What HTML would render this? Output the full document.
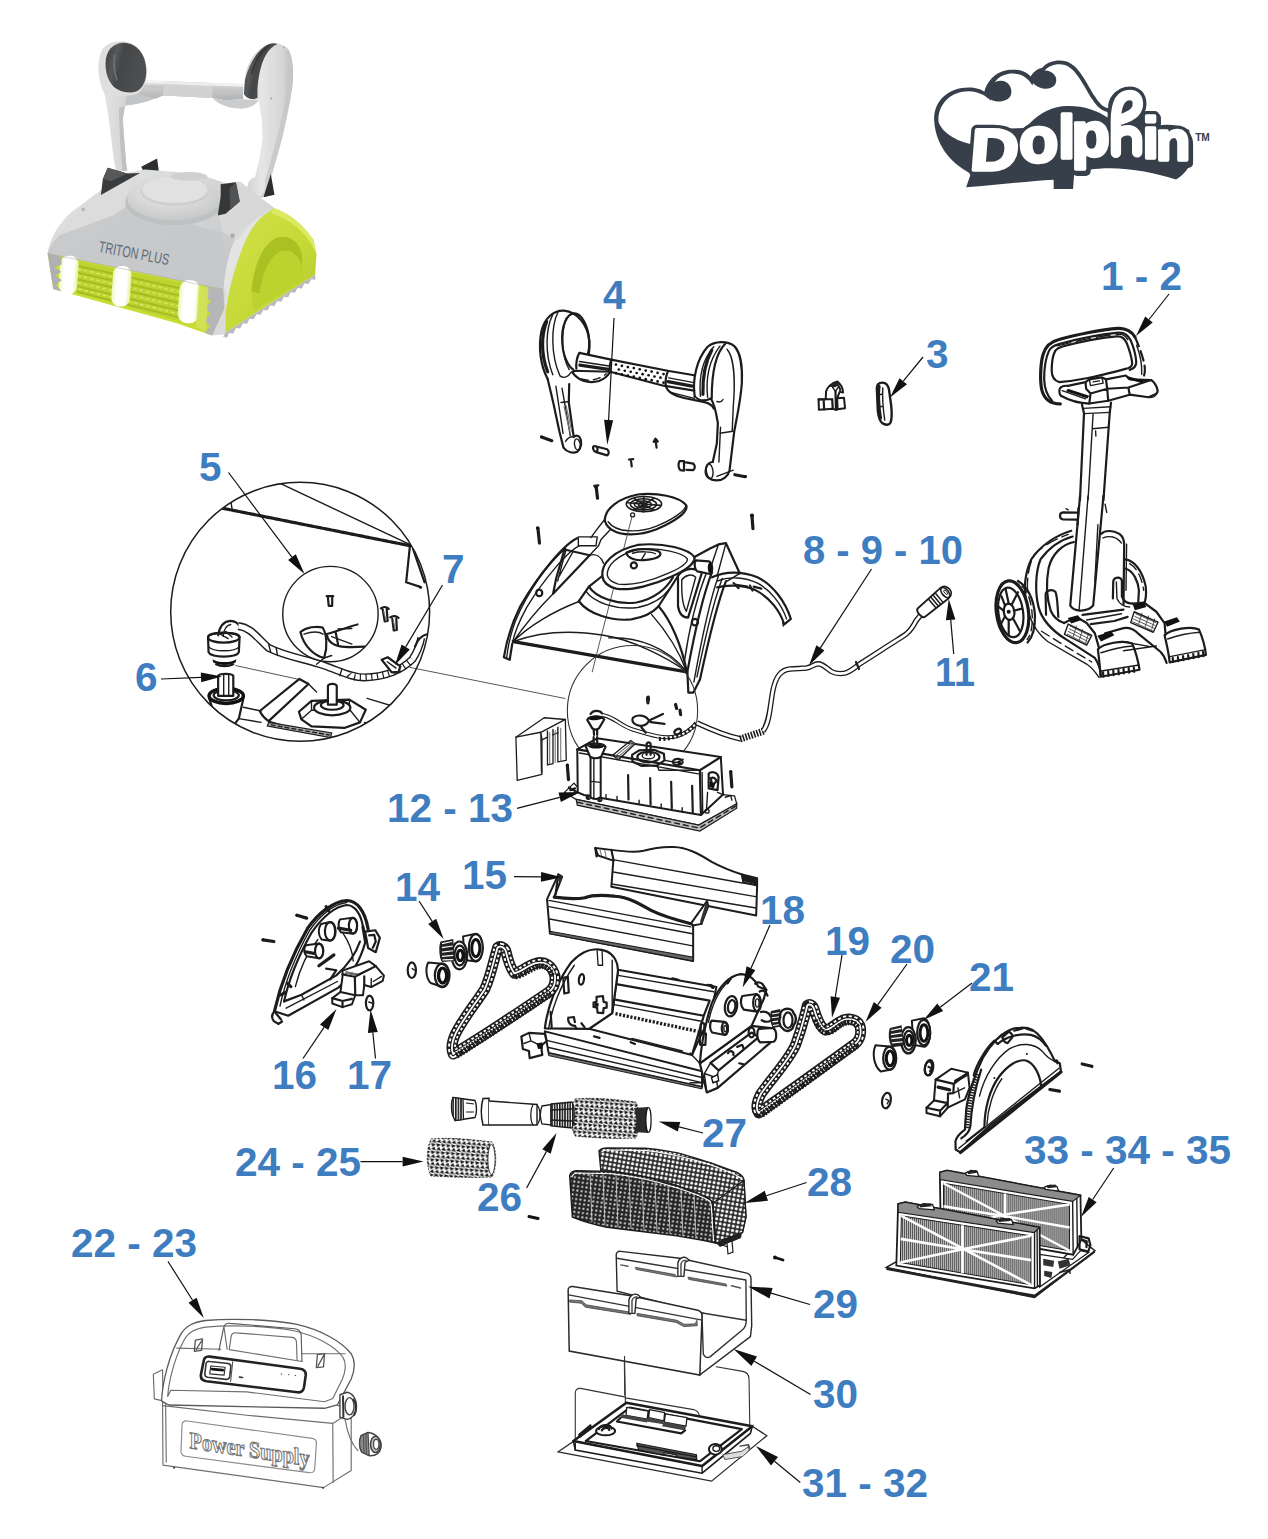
<!DOCTYPE html>
<html><head><meta charset="utf-8"><title>Dolphin Triton Plus parts diagram</title>
<style>
html,body{margin:0;padding:0;background:#fff;}
body{width:1268px;height:1539px;overflow:hidden;font-family:"Liberation Sans",sans-serif;}
svg{display:block}
svg *{vector-effect:non-scaling-stroke}
#robot *,#robotH *,#logo *{vector-effect:none}
.lb{font-family:"Liberation Sans",sans-serif;font-weight:bold;font-size:40.5px;fill:#3e7dbf}
.k{fill:none;stroke:#1c1c1c;stroke-width:1.4;stroke-linecap:round;stroke-linejoin:round}
.k2{fill:none;stroke:#1c1c1c;stroke-width:2.2;stroke-linecap:round;stroke-linejoin:round}
.k3{fill:none;stroke:#1c1c1c;stroke-width:3.2;stroke-linecap:round;stroke-linejoin:round}
.t{fill:none;stroke:#444;stroke-width:0.9;stroke-linecap:round;stroke-linejoin:round}
.g{fill:none;stroke:#777;stroke-width:1.1;stroke-linecap:round;stroke-linejoin:round}
.w{fill:#fff;stroke:#1c1c1c;stroke-width:1.3;stroke-linecap:round;stroke-linejoin:round}
</style></head><body>
<svg width="1268" height="1539" viewBox="0 0 1268 1539">
<rect width="1268" height="1539" fill="#ffffff"/>

<!-- 005_robothandle.svg -->
<defs>
<linearGradient id="hgPad" x1="0" y1="0" x2="1" y2="0.3"><stop offset="0" stop-color="#3a3b3c"/><stop offset="0.3" stop-color="#58595a"/><stop offset="0.45" stop-color="#454647"/><stop offset="1" stop-color="#4e4f50"/></linearGradient>
<linearGradient id="hgArmL" x1="0" y1="0" x2="1" y2="0"><stop offset="0" stop-color="#e3e3e4"/><stop offset="0.5" stop-color="#cfcfd0"/><stop offset="1" stop-color="#b2b3b4"/></linearGradient>
<linearGradient id="hgArmR" x1="0" y1="0" x2="1" y2="0"><stop offset="0" stop-color="#cbcccd"/><stop offset="0.35" stop-color="#e6e6e7"/><stop offset="0.8" stop-color="#d5d5d6"/><stop offset="1" stop-color="#b8b9ba"/></linearGradient>
<linearGradient id="hgBar" x1="0" y1="0" x2="0" y2="1"><stop offset="0" stop-color="#e9e9ea"/><stop offset="0.3" stop-color="#d0d0d1"/><stop offset="1" stop-color="#b0b1b2"/></linearGradient>
</defs>
<g id="robotH" transform="translate(80,25) scale(0.18927)">
<!-- left arm -->
<path d="M128,355 L150,480 L165,600 L180,720 L192,775 L250,770 L245,740 L235,620 L226,500 L238,425 C300,418 380,400 432,372 L440,300 L275,292 Z" fill="url(#hgArmL)"/>
<path d="M205,440 L238,425 L226,500 L235,620 L245,740 L250,770 L225,772 L212,620 Z" fill="#b9babb" opacity=".75"/>
<path d="M250,352 C300,360 360,365 432,372 C380,400 300,418 238,425 Z" fill="#c4c5c6"/>
<!-- crossbar -->
<path d="M275,290 L440,296 L700,306 L862,312 L862,392 L765,398 L700,386 L440,372 L400,388 L255,352 Z" fill="url(#hgBar)"/>
<path d="M440,296 L700,306 L700,386 L440,372 Z" fill="#d2d2d3"/>
<path d="M440,296 L700,306 L700,322 L440,312 Z" fill="#ececed"/>
<path d="M275,290 L440,296 L440,310 L280,305 Z M700,306 L862,312 L862,326 L700,320 Z" fill="#f1f1f2"/>
<path d="M285,318 L440,324 L440,332 L285,326 Z M705,338 L858,344 L858,352 L705,346 Z" fill="#c3c4c5"/>
<!-- right bracket -->
<path d="M700,386 C730,420 780,440 850,442 C900,440 930,420 945,398 L862,392 L765,398 Z" fill="#cbcccd"/>
<!-- left head -->
<path d="M130,365 C95,300 85,200 115,135 C140,95 190,80 240,88 C300,98 345,150 353,230 C357,290 340,340 300,365 C250,378 180,380 130,365 Z" fill="#dededf"/>
<path d="M135,205 C135,135 175,94 232,94 C300,98 345,150 350,235 C352,290 335,330 300,350 C260,365 205,355 172,320 C147,290 135,250 135,205 Z" fill="url(#hgPad)"/>
<path d="M182,160 C178,200 180,250 195,290" stroke="#7b7c7d" stroke-width="9" fill="none" opacity=".7" stroke-linecap="round"/>
<!-- right arm + head -->
<path d="M1000,100 C1040,88 1085,105 1105,135 C1125,180 1130,250 1122,320 C1112,400 1090,500 1070,590 L1040,700 L1002,830 C1005,880 975,915 940,915 C905,915 882,890 885,850 C890,825 905,810 925,805 L945,720 L965,600 L960,500 L945,398 C900,400 870,380 865,350 L870,290 C880,200 930,120 1000,100 Z" fill="url(#hgArmR)"/>
<path d="M1095,125 C1125,180 1130,250 1122,320 C1112,400 1090,500 1070,590 L1040,700 L1002,830 C1005,880 975,915 940,915 C975,895 985,860 978,825 L1015,690 L1050,560 C1075,450 1100,330 1098,230 C1098,190 1098,150 1095,125 Z" fill="#c6c7c8" opacity=".8"/>
<path d="M1000,100 C940,125 895,200 872,290 L866,365 C880,392 915,398 938,385 C935,320 945,250 965,195 C985,145 1010,112 1045,100 C1030,95 1012,96 1000,100 Z" fill="url(#hgPad)"/>
<path d="M1000,108 C960,135 925,190 905,260" stroke="#2c2d2e" stroke-width="10" fill="none" opacity=".6"/>
<circle cx="1010" cy="388" r="5" fill="#9a9b9c"/><circle cx="1078" cy="118" r="3.5" fill="#888"/>
</g>


<!-- 01_robot.svg -->
<defs>
<linearGradient id="rgShell" x1="0" y1="0" x2="1" y2="1"><stop offset="0" stop-color="#e6e7e7"/><stop offset="0.55" stop-color="#cfd0d1"/><stop offset="1" stop-color="#b9babb"/></linearGradient>
<linearGradient id="rgShell2" x1="0" y1="0" x2="0" y2="1"><stop offset="0" stop-color="#d4d5d6"/><stop offset="1" stop-color="#bfc0c1"/></linearGradient>
<linearGradient id="rgLime" x1="0" y1="0" x2="1" y2="1"><stop offset="0" stop-color="#d3e24a"/><stop offset="0.6" stop-color="#c3d835"/><stop offset="1" stop-color="#b1c82a"/></linearGradient>
<linearGradient id="rgArm" x1="0" y1="0" x2="1" y2="0"><stop offset="0" stop-color="#e9e9e9"/><stop offset="0.6" stop-color="#d2d2d3"/><stop offset="1" stop-color="#b4b5b6"/></linearGradient>
<linearGradient id="rgPad" x1="0" y1="0" x2="1" y2="1"><stop offset="0" stop-color="#3f4041"/><stop offset="0.6" stop-color="#5c5d5e"/><stop offset="1" stop-color="#77787a"/></linearGradient>
<linearGradient id="rgBar" x1="0" y1="0" x2="0" y2="1"><stop offset="0" stop-color="#e2e2e3"/><stop offset="0.5" stop-color="#cdcdce"/><stop offset="1" stop-color="#b0b1b2"/></linearGradient>
<radialGradient id="rgDome" cx="0.45" cy="0.35" r="0.7"><stop offset="0" stop-color="#ececec"/><stop offset="1" stop-color="#c4c5c6"/></radialGradient>
<linearGradient id="rgCyl" x1="0" y1="0" x2="1" y2="0"><stop offset="0" stop-color="#eef7b8"/><stop offset="0.25" stop-color="#ffffff"/><stop offset="0.75" stop-color="#ffffff"/><stop offset="1" stop-color="#e6f29c"/></linearGradient>
</defs>
<g id="robot" transform="translate(30,20) scale(0.24448)">
<!-- black fins behind -->
<path d="M455,600 L520,566 L528,628 L470,632 Z" fill="#2d2e2f"/>
<path d="M985,630 L1000,715 L955,725 Z" fill="#2d2e2f"/>
<!-- main shell -->
<path d="M72,955 C80,890 120,830 170,785 L300,690 L395,625 L470,612 L600,622 L720,640 L800,668 L860,662 L930,720 L1000,770 C940,800 900,850 870,930 C840,1010 810,1100 800,1205 L790,1102 Z" fill="url(#rgShell)"/>
<!-- right lit band of shell -->
<path d="M860,860 C900,830 950,790 1000,770 C940,810 900,870 875,950 C845,1040 820,1120 805,1215 L790,1105 C800,1000 820,920 860,860 Z" fill="#e4e4e5"/>
<!-- shell facets -->
<path d="M300,690 L395,625 L440,640 L400,760 L340,800 L200,860 L120,880 C150,820 220,740 300,690 Z" fill="#dcdcdd" opacity=".9"/>
<path d="M120,880 L340,800 L400,760 L640,830 L790,870 L800,1000 L790,1102 L72,955 C85,920 100,900 120,880 Z" fill="#c6c7c8" opacity=".85"/>
<path d="M790,870 L760,760 L800,668 L860,662 L1000,770 C930,800 880,850 850,900 Z" fill="#d8d8d9" opacity=".9"/>
<!-- dome -->
<ellipse cx="590" cy="745" rx="200" ry="95" fill="#bfc0c1"/>
<ellipse cx="590" cy="730" rx="192" ry="90" fill="url(#rgDome)"/>
<ellipse cx="592" cy="700" rx="140" ry="60" fill="#cdcecf"/>
<ellipse cx="592" cy="694" rx="134" ry="55" fill="#e1e1e2"/>
<ellipse cx="650" cy="640" rx="75" ry="18" fill="#d0d0d1"/>
<!-- black fins front -->
<path d="M318,604 L398,628 L450,626 L290,716 L298,650 Z" fill="#3a3b3c"/>
<path d="M318,604 L398,628 L330,660 L298,650 Z" fill="#57585a"/>
<path d="M780,672 L842,664 L858,742 L800,792 L768,800 L780,722 Z" fill="#363738"/>
<path d="M842,664 L858,742 L820,775 L815,690 Z" fill="#515253"/>
<!-- gap strip -->
<path d="M788,1100 L802,1100 L802,1285 L745,1290 L795,1180 Z" fill="#d9dadb"/>
<!-- lime side -->
<path d="M1000,770 C1060,790 1120,840 1160,900 L1172,960 L1166,1042 L800,1278 L800,1205 C810,1100 840,1010 870,930 C900,850 940,800 1000,770 Z" fill="url(#rgLime)"/>
<path d="M905,1110 C915,1010 945,930 1000,895 C1050,870 1100,900 1112,960 L1114,1015 C1100,960 1060,930 1020,950 C975,975 950,1040 940,1120 Z" fill="#a9c122"/>
<path d="M940,1120 C950,1040 975,975 1020,950 C1060,930 1100,960 1114,1015 L1114,1060 L915,1190 L905,1110 Z" fill="#bcd22f"/>
<path d="M1000,770 C1060,790 1120,840 1160,900 L1172,960 C1140,880 1080,820 985,790 Z" fill="#dcea63"/>
<!-- teeth strip under lime -->
<path d="M800,1278 L1166,1042 L1168,1062 L1150,1060 L1140,1080 L1122,1078 L1112,1098 L1094,1096 L1084,1116 L1066,1114 L1056,1134 L1038,1132 L1028,1152 L1010,1150 L1000,1170 L982,1168 L972,1188 L954,1186 L944,1206 L926,1204 L916,1224 L898,1222 L888,1242 L870,1240 L860,1262 L842,1260 L832,1282 L814,1280 L806,1300 L790,1296 Z" fill="#b9babb"/>
<!-- front brush zone -->
<path d="M72,955 L790,1102 L795,1180 L745,1290 L600,1240 L95,1100 Z" fill="#c9de35"/>
<path d="M185,985 L620,1075 L620,1235 L185,1115 Z" fill="#bcd330"/>
<g stroke="#9db51e" stroke-width="7" fill="none" opacity=".8">
<path d="M190,1005 L615,1098"/><path d="M190,1032 L615,1128"/><path d="M190,1060 L615,1158"/><path d="M190,1088 L615,1190"/><path d="M192,1112 L615,1218"/>
</g>
<g stroke="#e3f07a" stroke-width="5" fill="none" opacity=".8" stroke-dasharray="14 12">
<path d="M195,1018 L615,1112"/><path d="M195,1046 L615,1142"/><path d="M195,1074 L615,1172"/><path d="M198,1100 L615,1204"/>
</g>
<!-- white cylinders -->
<rect x="120" y="964" width="76" height="158" rx="34" fill="url(#rgCyl)" transform="rotate(4 157 1043)"/>
<rect x="336" y="1006" width="76" height="166" rx="34" fill="url(#rgCyl)" transform="rotate(4 372 1089)"/>
<rect x="608" y="1064" width="86" height="176" rx="38" fill="url(#rgCyl)" transform="rotate(4 649 1152)"/>
<!-- grey track ends -->
<path d="M72,955 L128,968 L130,1000 L100,1010 L128,1030 L104,1045 L130,1065 L106,1082 L128,1110 L95,1100 Z" fill="#aeb0b1"/>
<path d="M720,1090 L790,1102 L795,1180 L770,1235 L745,1290 L715,1280 L735,1250 L712,1230 L738,1200 L714,1180 L740,1150 L716,1130 Z" fill="#b4b6b7"/>
<path d="M690,1085 L730,1095 L720,1270 L680,1258 Z" fill="#d2e25a" opacity=".9"/>
<!-- shell front lower edge highlight -->
<path d="M72,955 L790,1102" stroke="#9a9b9c" stroke-width="3" fill="none" opacity=".6"/>
<!-- screws -->
<circle cx="828" cy="882" r="9" fill="#aaabac"/><circle cx="218" cy="775" r="7" fill="#b4b5b6"/>
<text x="0" y="0" font-family="Liberation Sans, sans-serif" font-size="64" fill="#5d6b78" transform="translate(278,948) rotate(10.8) scale(1.02,1)" textLength="286" lengthAdjust="spacingAndGlyphs">TRITON PLUS</text>
</g>


<!-- 02_logo.svg -->
<g id="logo" transform="translate(920,50) scale(0.23659)">
<!-- outer dark silhouette -->
<path d="M60,300 C55,215 120,158 205,158 C235,158 258,165 272,176 C282,138 312,95 370,85 C420,78 450,92 468,112 C480,90 500,78 515,76 C540,46 580,40 612,46 C672,60 702,140 742,200 C757,225 775,243 796,246 C792,200 830,158 882,158 C932,158 954,200 947,242 C945,258 938,270 930,280 C950,262 980,262 994,278 C1002,290 1004,305 1000,320 C1050,310 1100,318 1138,338 L1142,482 C1130,510 1105,535 1082,547 C1000,522 900,500 800,500 C740,500 690,510 652,520 L647,588 L565,588 L565,548 C450,555 320,570 195,580 L215,522 C150,490 68,420 60,300 Z" fill="#37404a"/>
<!-- white cloud interior -->
<path d="M78,302 C75,228 130,174 205,174 C250,174 290,200 300,215 C295,150 322,110 372,101 C420,95 452,112 475,150 C488,104 508,94 522,92 C545,62 580,56 608,62 C660,75 690,150 728,208 C745,235 765,255 792,262 L800,290 C740,250 680,232 600,238 C540,245 490,280 445,330 L225,335 L218,398 C150,385 90,345 78,302 Z" fill="#fff"/>
<!-- curls -->
<path d="M272,178 C282,150 315,128 345,130 C378,133 392,165 384,190 C375,215 335,225 305,212 C285,203 268,195 272,178 Z" fill="#37404a"/>
<path d="M468,114 C478,92 510,80 540,88 C572,96 585,125 570,148 C555,168 510,168 490,150 C475,138 462,130 468,114 Z" fill="#37404a"/>
<!-- letters: dark outline + extrusion -->
<g font-family="Liberation Sans, sans-serif" font-weight="bold" fill="#37404a" stroke="#37404a" stroke-width="42" stroke-linejoin="round">
<g transform="translate(6,10)">
<text transform="translate(208,506) scale(1.13,1) skewX(-4)" font-size="248">D</text>
<text x="418" y="474" font-size="272">o</text>
<text x="584" y="455" font-size="255">l</text>
<text x="640" y="446" font-size="265">p</text>
<text x="942" y="455" font-size="240">i</text>
<text x="998" y="466" font-size="236">n</text>
</g>
<text transform="translate(208,506) scale(1.13,1) skewX(-4)" font-size="248">D</text>
<text x="418" y="474" font-size="272">o</text>
<text x="584" y="455" font-size="255">l</text>
<text x="640" y="446" font-size="265">p</text>
<text x="942" y="455" font-size="240">i</text>
<text x="998" y="466" font-size="236">n</text>
</g>
<g fill="none" stroke="#37404a" stroke-width="72" stroke-linecap="round" stroke-linejoin="round">
<path d="M828,435 L828,300 C828,215 855,190 888,190 C925,190 930,235 908,262 C888,285 850,292 828,300"/>
<path d="M828,370 C845,330 918,325 918,380 L918,432"/>
<path d="M834,445 L834,380 M924,442 L924,390"/>
</g>
<!-- white letters -->
<g font-family="Liberation Sans, sans-serif" font-weight="bold" fill="#fff" stroke="#fff" stroke-width="15" stroke-linejoin="round">
<text transform="translate(208,506) scale(1.13,1) skewX(-4)" font-size="248">D</text>
<text x="418" y="474" font-size="272">o</text>
<text x="584" y="455" font-size="255">l</text>
<text x="640" y="446" font-size="265">p</text>
<text x="942" y="455" font-size="240">i</text>
<text x="998" y="466" font-size="236">n</text>
</g>
<g fill="none" stroke="#fff" stroke-width="44" stroke-linecap="round" stroke-linejoin="round">
<path d="M828,435 L828,300 C828,215 855,190 888,190 C925,190 930,235 908,262 C888,285 850,292 828,300"/>
<path d="M828,370 C845,330 918,325 918,380 L918,432"/>
</g>
<text x="1163" y="384" font-family="Liberation Sans, sans-serif" font-weight="bold" font-size="46" fill="#37404a" textLength="62" lengthAdjust="spacingAndGlyphs">TM</text>
</g>


<!-- 10_caddy.svg -->
<g id="caddy-top" transform="translate(1030,320) scale(0.12618)">
<!-- outer loop -->
<path class="k3" d="M240,665 C170,665 115,630 95,560 C75,480 85,330 105,270 C125,205 170,170 230,155 C350,120 560,75 700,66 C760,62 810,95 832,135"/>
<path class="k2" stroke-dasharray="10 5" d="M832,135 C870,220 905,320 910,380 C912,410 908,435 900,450"/>
<path class="k" d="M845,200 C875,280 890,350 885,430"/>
<!-- middle loop -->
<path class="k2" d="M175,640 C135,600 115,540 112,470 C112,380 125,300 150,245 C165,215 195,200 230,190 C350,158 560,112 700,100 C745,98 780,120 800,165 C820,215 840,290 842,335 C842,365 825,385 790,395"/>
<path class="k" stroke-dasharray="14 6" d="M215,205 C350,170 560,125 700,112 C735,112 762,128 780,165"/>
<!-- inner window -->
<path class="k2" d="M230,492 C195,480 172,450 172,400 C172,330 180,280 200,245 C212,225 235,217 265,208 C380,178 570,140 690,130 C725,128 750,145 765,180 C785,230 805,300 810,340 C810,362 798,375 775,382 C700,402 560,440 460,460 C380,476 290,488 230,492 Z"/>
<!-- T bar -->
<path class="w" style="stroke-width:2.2" d="M238,540 C250,525 280,520 300,522 L440,492 L470,470 L570,455 L602,470 L760,440 L790,470 L960,476 C985,490 1008,530 1012,560 C1010,580 998,590 985,592 L940,612 L790,592 L620,640 L470,662 C380,660 290,625 245,600 C232,585 230,560 238,540 Z"/>
<path class="k2" d="M440,492 L445,545 L480,582 L612,545 L602,470 M612,545 L620,640 M480,582 L470,662 M780,535 L790,592 M612,545 L780,535 L960,476"/>
<path class="k" d="M470,470 L480,520 L580,500 L570,455 M500,490 L550,482"/>
<path d="M300,545 L470,600 L455,622 L285,565 Z M760,442 L905,482 L890,502 L775,470 Z" fill="#111"/>
<path class="k" d="M255,560 L440,625 M940,612 C960,620 990,610 1000,590"/>
<!-- pole top -->
<path class="k2" d="M412,672 L428,740 L396,1427 M642,655 L632,735 L582,1427"/>
<path class="k" d="M425,700 L640,688 M430,742 L632,732 M500,742 L460,1427 M496,862 L622,850 M520,880 L522,920"/>
</g>
<g id="caddy-base" transform="translate(980,500) scale(0.20505)">
<!-- pole -->
<path class="k2" d="M488,-20 L440,515 C455,545 520,550 552,515 L602,-20"/>
<path class="k" d="M527,-20 L483,540 M575,120 L560,400"/>
<!-- clip -->
<path class="k2" d="M470,62 L405,60 C385,62 385,92 405,95 L470,96 M480,40 L476,120"/>
<path class="k" d="M610,20 L618,60 M420,42 L430,48"/>
<!-- left arch frame -->
<path class="k2" d="M445,150 C380,170 300,215 250,290 C225,340 212,420 222,470"/>
<path class="k2" d="M452,178 C390,195 335,235 295,290 C270,350 268,450 285,520 C300,580 340,630 420,680 L560,770 C580,800 588,830 590,855"/>
<path class="k2" d="M458,205 C400,218 352,262 335,330 C322,400 322,470 345,540 C360,575 380,590 410,600"/>
<path class="k" stroke-dasharray="12 5" d="M262,270 C300,225 360,195 430,168 M250,300 C235,340 228,400 232,450"/>
<path class="k" d="M240,560 C260,620 290,660 330,690 L520,800 C550,820 570,850 580,865"/>
<path class="k" stroke-dasharray="9 5" d="M300,640 L420,715 L545,790"/>
<!-- box right of pole -->
<path class="k2" d="M592,165 C610,145 650,148 680,165 C700,180 705,200 703,230 L700,510"/>
<path class="k" d="M600,185 C630,172 665,178 690,210 M715,215 L712,440"/>
<!-- right arch -->
<path class="k2" d="M708,290 C750,295 790,340 808,420 C812,460 808,490 800,505"/>
<path class="k2" d="M712,335 C748,345 772,400 775,440 L772,495"/>
<path class="k" stroke-dasharray="9 5" d="M730,310 C765,330 790,380 798,440"/>
<!-- posts -->
<path class="k2" d="M322,560 L320,460 C322,440 350,432 368,448 C378,470 378,520 382,570"/>
<path class="k2" d="M648,480 L650,395 C655,375 685,372 692,392 L692,470 C700,495 720,505 745,505"/>
<path class="k" d="M665,400 L668,480 C680,510 700,520 730,522"/>
<!-- wheel -->
<ellipse class="k3" cx="158" cy="545" rx="78" ry="152" transform="rotate(-8 158 545)"/>
<ellipse class="k2" cx="150" cy="548" rx="60" ry="122" transform="rotate(-8 150 548)"/>
<ellipse class="k2" cx="142" cy="545" rx="26" ry="40" transform="rotate(-8 142 545)"/>
<circle cx="140" cy="545" r="10" fill="#111"/>
<path class="k2" d="M140,505 L125,435 M155,510 L185,450 M165,540 L205,530 M160,575 L195,640 M140,585 L140,660 M120,570 L95,620 M115,540 L90,520 M122,515 L105,470"/>
<path class="k2" d="M185,395 C230,420 262,480 268,560 C270,620 255,670 232,695"/>
<path class="k" stroke-dasharray="8 5" d="M205,420 C240,450 255,520 255,580 C255,630 245,660 230,680"/>
<!-- cross rails -->
<path class="k2" d="M500,560 L700,535 M540,605 L655,590 L720,570 M610,650 L700,625 C730,620 750,630 770,650 L880,740 C900,760 905,780 910,795"/>
<path class="k" d="M520,585 L690,555 M690,690 L830,715 M700,735 L860,712"/>
<!-- left foot -->
<path class="k2" d="M410,600 L470,570 L520,600 L560,650 L580,720"/>
<path class="k2" d="M575,728 C600,700 700,680 742,700 C760,740 772,790 778,828 L588,862 C585,810 580,770 575,728 Z"/>
<path class="k" d="M590,745 C640,728 700,715 745,712 M585,835 L775,805"/>
<path class="k2" d="M600,840 L602,862 M625,836 L627,858 M650,832 L652,854 M675,828 L677,850 M700,824 L702,846 M725,820 L727,842 M750,816 L752,838"/>
<path d="M428,575 L478,562 L495,585 L445,602 Z M572,662 L640,640 L655,660 L590,690 Z" fill="#111"/>
<g class="t"><path d="M440,615 L535,662 M435,628 L528,675 M430,641 L522,688 M425,654 L516,700 M470,615 L455,665 M500,632 L485,682 M530,650 L515,698"/></g>
<path class="k" d="M430,605 L545,660 L520,708 L412,655 Z"/>
<!-- right foot -->
<path class="k2" d="M745,505 L800,500 L860,545 L900,600 L905,655"/>
<path class="k2" d="M900,660 C930,630 1030,612 1068,632 C1085,670 1098,720 1102,755 L925,792 C920,745 910,700 900,660 Z"/>
<path class="k" d="M915,678 C965,660 1030,648 1072,645 M920,765 L1100,730"/>
<path class="k2" d="M940,770 L942,790 M965,766 L967,786 M990,761 L992,781 M1015,756 L1017,776 M1040,751 L1042,771 M1065,746 L1067,766 M1088,741 L1090,761"/>
<path d="M745,510 L800,500 L812,522 L755,538 Z M898,592 L960,572 L975,592 L912,618 Z" fill="#111"/>
<g class="t"><path d="M760,555 L858,598 M755,568 L852,611 M750,581 L846,624 M745,594 L840,637 M790,552 L775,602 M822,566 L806,616 M852,580 L838,630"/></g>
<path class="k" d="M752,545 L868,596 L845,645 L735,598 Z"/>
</g>


<!-- 12_cover.svg -->
<g id="cover" transform="translate(490,470) scale(0.25237)">
<!-- cap -->
<path class="w" style="stroke-width:2.2" d="M455,195 C460,150 510,112 585,97 C660,88 750,105 778,140 C785,165 740,200 660,235 C590,262 520,262 480,235 C462,222 455,210 455,195 Z"/>
<path class="k" d="M468,205 C500,250 590,250 660,222 C720,198 770,165 776,142"/>
<g class="k" style="stroke-width:1.6"><ellipse cx="610" cy="135" rx="70" ry="30"/><ellipse cx="608" cy="136" rx="52" ry="22"/><ellipse cx="606" cy="137" rx="34" ry="14"/><ellipse cx="604" cy="138" rx="16" ry="7"/><path d="M545,130 L675,140 M570,112 L650,160 M650,112 L570,160 M610,105 L608,166"/></g>
<circle class="w" cx="565" cy="178" r="8"/>
<path class="t" d="M562,187 L430,700 L405,800"/>
<path class="k" d="M455,195 L420,240 L400,268 M478,235 L440,275 L430,300 M350,265 L425,265 L420,300 L350,300 Z"/>
<!-- shell left arcs -->
<path class="k2" d="M345,270 C300,290 200,400 120,540 C90,600 65,680 55,742 L78,752 L88,690"/>
<path class="k" d="M355,300 C310,320 215,430 145,545 C115,600 95,650 88,690"/>
<path class="k" d="M300,310 C230,370 150,480 100,600 C85,640 72,690 66,745"/>
<!-- left fin -->
<path class="k2" d="M295,315 L395,338 L250,490 L262,430 Z"/>
<path class="k" d="M300,320 L268,440 M395,338 L430,300 M330,322 L275,420"/>
<!-- ridge lines to bottom-left corner -->
<path class="k" d="M250,490 C200,540 140,610 92,680 M355,520 C250,560 150,620 92,680 M92,680 C200,640 330,635 450,655 C560,672 700,740 780,800"/>
<path class="k" d="M395,338 C420,330 440,345 450,370"/>
<!-- front bottom edge -->
<path class="k3" d="M92,680 L780,800"/>
<!-- dome -->
<path class="w" style="stroke-width:2.2" d="M445,420 C440,370 490,318 585,297 C690,285 790,315 810,345 C815,370 770,400 720,422 C650,455 560,480 500,470 C470,462 448,445 445,420 Z"/>
<path class="k" d="M465,418 C462,380 500,338 585,315 C680,305 765,330 782,352 C785,372 740,395 700,412 C640,440 560,460 508,452 C482,445 468,435 465,418 Z"/>
<path class="k2" d="M540,328 C570,310 650,308 672,325 C685,340 660,352 620,356 C580,362 545,350 540,328 Z"/>
<path class="k" d="M565,330 C590,322 640,322 655,332 M600,356 L615,330"/>
<circle class="k2" cx="570" cy="378" r="12"/>
<!-- dome tiers -->
<path class="k2" d="M445,420 L392,462 L352,520"/>
<path class="k2" d="M392,462 C420,505 500,535 580,525 C650,512 700,470 725,425"/>
<path class="k" d="M380,480 C410,525 500,555 585,545 C650,532 690,500 712,470"/>
<path class="k2" d="M352,520 C390,570 480,600 560,592 C620,582 650,560 668,540"/>
<path class="k2" d="M668,540 L745,420 M668,540 C720,600 760,700 780,800"/>
<path class="k" d="M640,572 C700,640 750,720 780,800 M780,800 C700,700 580,660 470,665"/>
<!-- holes -->
<ellipse class="k2" cx="195" cy="487" rx="12" ry="13"/><ellipse class="k2" cx="812" cy="603" rx="12" ry="13"/>
<!-- right fin -->
<path class="k2" d="M745,420 C760,395 800,380 840,405 L785,585 C765,585 750,570 745,540 Z"/>
<path class="k" d="M760,435 C775,415 800,410 815,425 L778,560 C765,540 758,500 760,435 Z"/>
<!-- right arcs -->
<path class="k2" d="M880,405 C850,480 815,620 782,800 L786,882 L806,882 L832,830"/>
<path class="k" d="M860,400 C825,490 790,620 770,760 M905,420 C870,520 840,660 808,840"/>
<path class="k2" d="M935,440 C895,540 860,700 832,830"/>
<path class="k" d="M920,430 C880,540 850,680 820,820"/>
<!-- right peak + cylinder -->
<path class="k2" d="M810,345 L870,312 L905,295 L935,290 L990,410"/>
<path class="k" d="M905,295 L870,400 M935,290 L900,420 M990,410 L940,440"/>
<path class="w" style="stroke-width:2.2" d="M815,358 L868,362 C882,370 885,400 872,412 L822,402 C810,395 808,368 815,358 Z"/>
<ellipse cx="872" cy="388" rx="9" ry="20" fill="#111"/>
<!-- right flap -->
<path class="k2" d="M880,425 C930,400 1000,400 1060,425 C1120,455 1170,520 1192,590 L1166,612 C1150,560 1110,505 1050,475 C1000,455 940,455 900,465"/>
<path class="k" d="M900,440 C950,420 1010,425 1060,448 C1110,475 1155,530 1175,590 M1160,600 L1162,618"/>
<path class="k2" d="M965,448 L985,468 M975,455 L1020,462 M1030,458 L1040,478 M1045,462 L1075,470"/>
<!-- screws -->
<g class="k3"><path d="M421,68 L426,112 M190,232 L196,290 M1038,182 L1042,232 M627,900 L628,911"/></g>
<g fill="#111"><circle cx="420" cy="66" r="8"/><circle cx="189" cy="230" r="7"/><circle cx="1038" cy="180" r="8"/></g>
</g>


<!-- 13_motor.svg -->
<g id="motor" transform="translate(500,640) scale(0.22082)">
<!-- leader + small detail circle -->
<path class="t" d="M-408,124 L295,265"/>
<circle class="t" cx="600" cy="320" r="295" style="stroke:#333;stroke-width:1.1"/>
<!-- floating bracket block -->
<path class="w" d="M72,440 L200,352 L296,360 L300,545 L262,552 L262,420 L240,430 L240,560 L215,566 L215,440 L190,452 L190,608 L78,636 Z"/>
<path class="k" d="M72,440 L185,418 L296,360 M185,418 L190,452 M185,418 L188,600 M262,420 L262,395 M240,430 L240,405 M215,440 L215,412"/>
<path class="g" d="M225,420 L225,560 M250,410 L250,555 M275,400 L275,548"/>
<!-- base plate -->
<path class="w" d="M335,648 L292,690 L345,722 L900,838 L1072,742 L1062,706 L1010,700 L905,790 L380,700 Z"/>
<path d="M345,722 L900,838 L1072,742 L1072,762 L905,865 L350,748 Z" fill="#bdbdbd" stroke="#1c1c1c" stroke-width="1.2"/>
<path class="k" stroke-dasharray="5 4" d="M352,735 L902,852 L1068,752"/>
<!-- box -->
<path class="w" style="stroke-width:2" d="M350,495 L440,445 L1000,530 L1010,700 L910,792 L380,702 L352,690 Z"/>
<path class="k2" d="M350,495 L905,590 L1000,530 M905,590 L910,792"/>
<path class="k" d="M360,512 L898,606 M915,600 L918,780"/>
<path class="k2" d="M580,612 L582,722 M680,625 L682,745 M775,642 L778,762 M870,660 L873,782"/>
<path class="k" d="M480,700 L480,718 M530,708 L530,726 M630,725 L630,742 M730,742 L730,760 M825,760 L825,778"/>
<!-- top details -->
<path class="k" d="M510,522 L592,455 L612,470 L536,542 Z"/>
<path class="g" d="M522,526 L600,462 M530,534 L606,468"/>
<path class="k2" d="M598,520 L630,500 L700,498 L742,515 L745,545 L712,568 L640,570 L600,550 Z"/>
<ellipse class="k2" cx="672" cy="530" rx="50" ry="24"/><ellipse class="k" cx="672" cy="524" rx="28" ry="14"/>
<path class="k2" d="M664,470 L664,520 M682,470 L682,520 M664,470 C668,462 678,462 682,470"/>
<path class="k" d="M745,545 L800,555 L830,540 M712,568 L720,590 L905,590"/>
<ellipse class="k2" cx="805" cy="552" rx="22" ry="14"/><circle cx="812" cy="556" r="8" fill="#111"/>
<!-- post -->
<path class="w" style="stroke-width:2" d="M410,525 L410,712 C420,722 445,722 456,714 L456,528 Z"/>
<path class="k" d="M425,530 L425,715 M410,640 L456,645"/>
<path class="w" style="stroke-width:2.2" d="M388,482 C395,465 470,465 478,484 L458,528 C445,538 420,538 408,528 Z"/>
<path d="M395,480 C410,470 460,470 472,482 C460,495 410,495 395,480 Z" fill="#111"/>
<path class="k2" d="M424,440 L424,478 M440,440 L440,478"/>
<!-- floating impeller top -->
<path class="w" style="stroke-width:2.2" d="M395,362 C400,345 465,342 472,360 L448,400 C440,408 425,408 418,400 Z"/>
<path d="M398,355 C410,338 455,336 468,352 C455,365 412,368 398,355 Z" fill="#111"/>
<path class="k2" d="M410,335 C420,318 450,316 462,332 M424,405 L426,430 M440,405 L440,430"/>
<!-- wire inside small circle -->
<path d="M465,340 C520,350 540,385 600,405 C680,430 740,450 800,436 C840,425 870,400 890,375" fill="none" stroke="#1c1c1c" stroke-width="4.2"/>
<path d="M465,340 C520,350 540,385 600,405 C680,430 740,450 800,436 C840,425 870,400 890,375" fill="none" stroke="#fff" stroke-width="2"/>
<path d="M720,448 C760,450 800,438 840,420 C860,408 880,390 890,375" fill="none" stroke="#1c1c1c" stroke-width="4.2" stroke-dasharray="2 2.4"/>
<ellipse class="k2" cx="805" cy="415" rx="16" ry="11" transform="rotate(-30 805 415)"/>
<!-- mini propeller -->
<path class="k2" d="M602,352 C620,335 660,340 675,365 C665,390 630,395 610,380 C600,372 598,360 602,352 Z M680,362 L738,335 M682,372 L745,380 M640,395 L660,420"/>
<path class="k3" d="M668,262 L670,285 M795,292 L800,310 M815,318 L818,338"/>
<!-- right face connector -->
<path class="k2" d="M945,605 C960,592 985,600 990,620 L985,680 L945,672 Z M955,625 C965,620 978,625 980,640 L960,660 Z"/>
<path d="M950,640 L975,650 L968,672 L948,665 Z" fill="#111"/>
<path class="k" d="M940,690 L935,770 M985,690 L1010,700 M1020,712 L1045,705 L1050,725"/>
<!-- screws -->
<path class="k3" d="M305,568 L310,632 M1045,598 L1050,665"/>
<circle cx="305" cy="566" r="7" fill="#111"/><circle cx="1045" cy="596" r="7" fill="#111"/>
<path class="k2" d="M312,668 L350,690 L330,700 M318,680 L340,672 M395,705 L400,720 M450,715 L452,730"/>
<circle class="k" cx="400" cy="712" r="9"/><circle class="k" cx="452" cy="722" r="9"/>
<circle class="k" cx="938" cy="775" r="9"/>
</g>
<!-- cable -->
<g id="cable">
<path d="M697,723 C712,730 726,736 741,739" fill="none" stroke="#1c1c1c" stroke-width="5.6" stroke-linecap="butt"/>
<path d="M697,723 C712,730 726,736 741,739" fill="none" stroke="#fff" stroke-width="3" stroke-linecap="butt"/>
<path d="M740,739 L764,731" fill="none" stroke="#1c1c1c" stroke-width="7" stroke-dasharray="1.6 1.3"/>
<path id="cab1" d="M763,731 C770,722 770,705 773,690 C776,676 781,670 790,669 C797,668.5 802,668.5 806.6,668 C812,667 814,664 818.2,663.8 C823,664 826,668 831.4,671.5 C836,674 840,674 844.7,673.2 C850,672 854,668 859.6,664.1 L882.7,649.2 C892,643 899,639 905.9,634.3 C911,630 913.5,626 915.9,621 L922.5,612.7" fill="none" stroke="#1c1c1c" stroke-width="5.4"/>
<path d="M763,731 C770,722 770,705 773,690 C776,676 781,670 790,669 C797,668.5 802,668.5 806.6,668 C812,667 814,664 818.2,663.8 C823,664 826,668 831.4,671.5 C836,674 840,674 844.7,673.2 C850,672 854,668 859.6,664.1 L882.7,649.2 C892,643 899,639 905.9,634.3 C911,630 913.5,626 915.9,621 L922.5,612.7" fill="none" stroke="#fff" stroke-width="2.8"/>
<path class="k2" d="M856,662 L859,669"/>
<!-- connector -->
<g transform="translate(921.5,612.5) rotate(-40)">
<path d="M0,-5.6 L30,-6.6 C34.5,-6.6 36.5,-3.4 36.5,0 C36.5,3.4 34.5,6.6 30,6.6 L0,5.6 C-3.8,5.6 -3.8,-5.6 0,-5.6 Z" fill="#fff" stroke="#1c1c1c" stroke-width="1.8"/>
<path d="M14,-6 L14,6 M17,-6.2 L17,6.2 M20,-6.3 L20,6.3 M23,-6.4 L23,6.4" stroke="#1c1c1c" stroke-width="1.5" fill="none"/>
<ellipse cx="31" cy="0" rx="3.2" ry="5.9" fill="#fff" stroke="#1c1c1c" stroke-width="1.6"/>
<ellipse cx="31.5" cy="0" rx="1.2" ry="2.6" fill="none" stroke="#1c1c1c" stroke-width="1"/>
</g>
</g>


<!-- 14_detail.svg -->
<g id="detail" transform="translate(150,470) scale(0.25237)">
<defs><clipPath id="cpBig"><circle cx="595" cy="562" r="512"/></clipPath></defs>
<g clip-path="url(#cpBig)">
<path class="k3" stroke-dasharray="3 1.5" d="M270,148 L1030,300"/>
<path class="k" d="M505,48 L1035,298 M320,120 L326,160"/>
<path class="k2" d="M1030,300 L1015,445 L1068,462 M1042,312 L1088,445"/>
<circle cx="1072" cy="465" r="6" fill="#111"/>
<!-- leader dashed -->
<path class="t" d="M340,775 L600,832"/>
<!-- platform -->
<path class="k2" d="M435,955 L592,828 L628,848 L470,995 C455,985 442,970 435,955 Z"/>
<path class="k" d="M370,940 L440,955 M628,848 L660,880 M470,995 L520,1010"/>
<path d="M470,1000 L720,1042 L715,1060 L465,1015 Z" fill="#aaa" stroke="#1c1c1c" stroke-width="1.2"/>
<path class="k" stroke-dasharray="4 3" d="M480,1010 L710,1050"/>
<path class="k" d="M860,905 L1010,950 M850,1000 L980,1030"/>
<!-- octagon mount -->
<path class="w" style="stroke-width:2.2" d="M590,958 L640,915 L790,910 L855,950 L832,1000 L770,1022 L640,1016 L600,988 Z"/>
<path class="k" d="M600,988 L640,952 L790,948 L832,1000 M640,952 L640,915 M790,948 L790,910"/>
<ellipse class="w" style="stroke-width:2.2" cx="722" cy="942" rx="72" ry="30"/>
<ellipse class="k2" cx="722" cy="932" rx="45" ry="18"/>
<path class="w" style="stroke-width:2.2" d="M705,855 C710,845 735,845 740,855 L740,930 L705,930 Z"/>
<!-- lower-left shaft -->
<path class="w" style="stroke-width:2.2" d="M235,905 C235,870 370,870 370,905 L352,985 C340,1000 330,1010 330,1040 L270,1040 C270,1000 250,960 235,905 Z"/>
<ellipse cx="302" cy="895" rx="68" ry="30" fill="#fff" stroke="#111" stroke-width="3.5"/>
<ellipse class="k2" cx="302" cy="893" rx="50" ry="20"/>
<path class="w" style="stroke-width:2.2" d="M270,815 C275,805 325,805 330,815 L330,895 L270,895 Z"/>
<path class="k" d="M292,812 L292,895 M312,812 L312,895"/>
<path class="k" d="M352,985 L440,1000"/>
<!-- upper-left impeller cap -->
<path class="w" style="stroke-width:2.2" d="M230,662 C230,640 355,640 355,662 L352,722 C345,745 240,745 232,722 Z"/>
<ellipse class="k2" cx="292" cy="664" rx="62" ry="20"/>
<path class="k" d="M232,700 C250,722 335,722 354,700"/>
<path d="M248,750 C270,765 320,765 342,750 L340,762 C318,776 272,776 250,762 Z" fill="#111"/>
<path class="k2" d="M262,770 C280,780 310,780 330,770"/>
<path class="k2" d="M270,655 C275,625 290,600 318,598 C340,598 352,610 358,625"/>
<path class="k" d="M290,660 C292,635 300,615 320,612 M275,648 L310,668 M300,640 L325,662"/>
<!-- cable -->
<path d="M350,618 C400,625 420,660 470,705 C540,740 620,750 690,775 C760,800 800,822 850,822 C920,820 990,800 1040,750 C1060,720 1070,690 1075,665" fill="none" stroke="#1c1c1c" stroke-width="8"/>
<path d="M350,618 C400,625 420,660 470,705 C540,740 620,750 690,775 C760,800 800,822 850,822 C920,820 990,800 1040,750 C1060,720 1070,690 1075,665" fill="none" stroke="#fff" stroke-width="5.2"/>
<path d="M790,808 C800,822 820,822 850,822 C920,820 990,800 1040,750" fill="none" stroke="#1c1c1c" stroke-width="7" stroke-dasharray="1.2 4.5"/>
<path class="k" d="M470,690 L478,720 M500,705 L505,735 M760,790 L752,815"/>
<path class="k2" d="M1050,700 C1060,670 1080,655 1100,650"/>
<!-- clip 7 -->
<path class="w" style="stroke-width:2.2" d="M918,752 L942,742 L992,778 L985,800 L958,802 Z"/>
<path class="k" d="M940,760 L975,785"/>
</g>
<circle class="k" cx="595" cy="562" r="513" style="stroke-width:1.5"/>
<!-- inner circle -->
<circle cx="715" cy="571" r="189" fill="#fff" stroke="#1c1c1c" stroke-width="1.4"/>
<path class="k2" d="M700,500 L726,500 M705,505 L708,538 L722,538 L722,505"/>
<path class="k2" d="M596,642 C620,622 660,618 684,624 C700,650 705,700 690,745 C650,735 610,700 596,642 Z"/>
<path class="k" d="M610,650 C640,640 670,640 686,650 M690,745 L720,735 M690,745 L660,770"/>
<path class="k2" d="M700,650 C740,640 790,620 822,612 M705,668 C720,700 760,705 850,700 M735,640 L745,690 M700,650 L705,668"/>
<path class="k" d="M720,660 L800,690 M745,630 L800,628"/>
<!-- screws right -->
<path class="k2" d="M915,548 C925,540 940,542 946,550 M922,552 L930,600 L942,598 L938,552 M952,584 C962,576 978,578 985,586 M960,590 L966,636 L978,634 L976,590"/>
<path class="g" d="M926,560 L936,598 M964,596 L972,632"/>
</g>


<!-- 15_leftcover.svg -->
<g id="leftcover" transform="translate(240,880) scale(0.20505)">
<!-- outer arc -->
<path class="k3" d="M168,640 C190,540 240,390 330,235 C380,165 450,105 520,100 C570,100 610,150 625,240"/>
<path class="k2" d="M215,592 C235,500 280,380 350,255 C400,185 460,130 520,122 C560,122 590,165 600,230"/>
<path class="k" d="M195,615 C215,520 260,390 340,245 C390,175 455,118 520,110"/>
<path class="k3" d="M420,130 L432,150 M232,505 L248,520 M200,560 L222,548"/>
<!-- lower band -->
<path class="k2" d="M168,640 L235,662 L480,525 C540,470 585,400 612,300"/>
<path class="k2" d="M215,592 L300,560 L470,465 C520,420 565,360 585,300"/>
<path class="k" d="M225,625 L475,495 M300,560 L312,585"/>
<path class="k2" d="M168,640 C155,655 152,672 165,688 L188,702 L205,690 M175,650 L200,680"/>
<!-- inner plate edge -->
<path class="k" d="M500,255 C530,300 550,350 552,395 M270,520 C290,440 330,350 380,290"/>
<!-- bosses -->
<path class="w" style="stroke-width:2" d="M395,215 L440,205 C470,210 472,290 440,296 L398,290 C380,270 380,235 395,215 Z"/>
<ellipse class="k2" cx="440" cy="250" rx="26" ry="45"/>
<path class="w" style="stroke-width:2" d="M488,192 L550,184 C578,190 578,255 552,262 L492,255 C478,240 478,205 488,192 Z"/>
<ellipse class="k2" cx="551" cy="223" rx="20" ry="38"/>
<path class="k3" d="M480,235 L540,245"/>
<path class="w" style="stroke-width:2" d="M322,318 L385,310 C412,316 412,375 386,382 L325,372 C310,355 310,332 322,318 Z"/>
<ellipse class="k2" cx="386" cy="346" rx="20" ry="36"/>
<path class="k3" d="M318,350 L360,358"/>
<!-- slashes -->
<path class="k3" d="M385,418 L458,365"/>
<path class="k2" d="M420,432 L470,440 L440,485"/>
<!-- right bracket -->
<path class="k2" d="M610,252 L660,245 L682,282 L662,352 L625,332 Z M630,270 L655,268 L662,300 L648,330"/>
<path class="k3" d="M600,230 L612,300"/>
<!-- block 16 -->
<path class="w" style="stroke-width:2" d="M500,442 L630,396 L662,420 L702,466 L696,492 L640,522 L606,512 L600,562 L562,562 L546,606 L500,620 L450,602 L450,576 L490,546 L500,470 Z"/>
<path class="k2" d="M500,460 L560,472 L662,420 M560,472 L562,562 L490,546 M450,576 L500,590 L546,580 M500,590 L500,620 M606,512 L606,470"/>
<path class="k" d="M520,450 L575,462 L640,432 M640,522 L640,480 M690,470 L650,495"/>
<path class="g" d="M510,455 L565,465 M515,448 L570,458"/>
<!-- washers -->
<ellipse class="k2" cx="632" cy="600" rx="18" ry="36"/><path class="k" d="M628,595 L642,600"/>
<ellipse class="k2" cx="838" cy="440" rx="20" ry="38"/><path class="k" d="M840,432 L852,440"/>
<!-- screws -->
<path class="k3" d="M278,172 L325,186 M112,292 L165,300"/>
<circle cx="277" cy="172" r="7" fill="#111"/><circle cx="112" cy="292" r="7" fill="#111"/>
<!-- pulley set 14 -->
<path class="w" style="stroke-width:2" d="M1088,275 L1150,262 C1192,270 1195,385 1152,398 L1095,390 Z"/>
<ellipse class="w" style="stroke-width:2.2" cx="1150" cy="330" rx="34" ry="66"/>
<ellipse cx="1150" cy="332" rx="20" ry="42" fill="#fff" stroke="#111" stroke-width="3"/>
<ellipse class="w" style="stroke-width:2.2" cx="1070" cy="368" rx="38" ry="68"/>
<ellipse class="k2" cx="1072" cy="368" rx="26" ry="48"/><ellipse cx="1074" cy="368" rx="14" ry="26" fill="#fff" stroke="#111" stroke-width="3"/>
<path d="M978,300 L1040,288 L1048,395 L985,400 C970,380 968,320 978,300 Z" fill="#222"/>
<path d="M985,310 L1035,300 M985,330 L1038,322 M985,352 L1040,345 M985,372 L1040,368 M988,390 L1040,388" stroke="#fff" stroke-width="1.2" fill="none"/>
<path class="w" style="stroke-width:2" d="M918,402 L985,408 C1028,418 1030,512 988,522 L930,502 C905,480 905,425 918,402 Z"/>
<ellipse class="k2" cx="986" cy="465" rx="36" ry="57"/>
<ellipse cx="988" cy="466" rx="20" ry="36" fill="#fff" stroke="#111" stroke-width="3.4"/>
</g>


<!-- 16_chassis.svg -->
<g id="chassis" transform="translate(430,940) scale(0.25237)">
<!-- front beam -->
<path class="w" style="stroke-width:2" d="M455,362 L1078,520 L1078,582 L470,448 Z"/>
<path class="k" d="M462,398 L1078,545 M466,425 L1078,565"/>
<path d="M470,448 L1078,582 L1078,590 L470,458 Z" fill="#777" stroke="#1c1c1c" stroke-width="1"/>
<path class="k2" d="M650,382 L672,388 M795,405 L812,412"/>
<!-- left end bracket -->
<path class="w" style="stroke-width:2.2" d="M362,382 L392,368 L455,372 L462,400 L440,420 L445,455 L395,468 L392,440 L368,432 Z"/>
<path class="k" d="M392,368 L400,400 L440,420 M400,400 L372,410"/>
<path d="M422,410 L445,405 L448,430 L428,432 Z" fill="#111"/>
<!-- trough body -->
<path class="w" style="stroke-width:2" d="M745,118 L1135,186 L1110,300 L1038,456 L630,352 L722,290 Z"/>
<path class="k2" d="M738,175 L1108,240 M728,235 L1085,300 M1085,300 L1038,456 M1108,240 L1085,300"/>
<path class="k" d="M745,140 L1125,205 M725,255 L1075,322"/>
<path d="M735,292 L1060,362" fill="none" stroke="#1c1c1c" stroke-width="3.4" stroke-dasharray="2.2 1.6"/>
<path class="k2" d="M960,152 L985,158 M1100,178 L1120,182"/>
<path class="k" d="M630,352 L722,290 M800,390 L1000,440"/>
<!-- left half-disc plate -->
<path class="w" style="stroke-width:2.2" d="M455,350 C465,270 500,170 560,88 C600,45 650,25 700,45 C730,60 745,90 745,120 L738,175 L722,290 L630,352 Z"/>
<path class="k" d="M470,352 C480,280 515,180 572,100 M722,80 L722,290"/>
<path class="w" d="M662,38 L682,42 L684,100 L666,100 Z"/>
<ellipse class="k2" cx="600" cy="156" rx="10" ry="21" transform="rotate(8 600 156)"/>
<path class="k2" d="M528,150 L546,146 L550,208 L532,212 Z"/>
<path class="k2" d="M660,225 L685,222 L688,245 L700,248 L700,268 L688,270 L686,290 L664,288 L662,268 L648,265 L648,248 L660,245 Z"/>
<path d="M652,250 L668,250 L668,264 L652,264 Z" fill="#111"/>
<path class="k2" d="M548,308 C545,325 555,340 575,340 L580,352 M548,308 L570,305 L574,325"/>
<path class="k2" d="M478,285 L482,345 M600,330 L612,345"/>
</g>


<!-- 17_chassis_right.svg -->
<g id="chassisR" transform="translate(690,930) scale(0.20505)">
<!-- guide rail -->
<path class="w" style="stroke-width:2.2" d="M48,650 L300,468 L395,478 L412,532 L135,770 L82,792 Z"/>
<path class="k2" d="M100,648 L300,500 L335,522 L140,685 Z"/>
<path class="k" d="M82,792 L70,700 L100,648 M135,770 L128,720 L140,685 M128,720 L70,700"/>
<path class="k2" d="M185,600 C195,585 215,590 212,610 M230,570 L255,560 L262,580 M240,650 L262,655"/>
<path d="M105,720 L135,705 L140,735 L112,745 Z" fill="#fff" stroke="#111" stroke-width="1.4"/>
<path class="k" d="M0,600 L48,650 M0,745 L75,745"/>
<!-- rail small pulley -->
<path class="w" style="stroke-width:2.2" d="M335,482 L405,478 C425,490 425,535 408,545 L342,548 C325,535 325,495 335,482 Z"/>
<ellipse class="k2" cx="300" cy="500" rx="14" ry="24"/>
<!-- right half disc plate -->
<path class="w" style="stroke-width:2.2" d="M48,650 C55,560 70,470 105,360 C140,280 190,225 245,215 C290,215 320,245 332,275 L372,292 L360,335 L300,468 Z"/>
<path class="k" d="M90,450 C110,350 150,280 200,240"/>
<path class="k3" d="M100,270 L112,280 M182,258 L190,246"/>
<!-- bearing hole -->
<ellipse class="k2" cx="200" cy="372" rx="30" ry="50" transform="rotate(8 200 372)"/>
<ellipse class="k2" cx="203" cy="374" rx="18" ry="32" transform="rotate(8 203 374)"/>
<!-- cylinder boss -->
<path class="w" style="stroke-width:2.2" d="M255,322 L325,312 C350,320 352,390 328,398 L262,388 C245,370 245,340 255,322 Z"/>
<ellipse class="k2" cx="326" cy="355" rx="18" ry="40"/><ellipse class="k" cx="328" cy="356" rx="9" ry="20"/>
<!-- lower cylinder -->
<path class="w" style="stroke-width:2.2" d="M105,442 L168,448 C190,455 190,505 170,512 L108,500 C95,485 95,455 105,442 Z"/>
<ellipse class="k2" cx="170" cy="480" rx="15" ry="30"/><ellipse class="k" cx="172" cy="481" rx="7" ry="15"/>
<!-- pin -->
<path class="k2" d="M52,462 C55,450 68,450 70,462 L70,500 L52,500 Z M45,505 L78,505 L75,560 L50,560 Z"/>
<!-- bracket top and knob -->
<path class="k2" d="M318,262 C330,250 350,255 358,270 L372,292 M340,300 C355,290 372,300 378,320"/>
<path d="M395,395 L440,385 L450,470 L405,478 C390,455 388,415 395,395 Z" fill="#222"/>
<path d="M400,410 L442,402 M400,428 L445,422 M402,448 L446,442 M405,466 L448,460" stroke="#fff" stroke-width="1.1" fill="none"/>
<path class="w" style="stroke-width:2.4" d="M450,392 C470,378 500,382 505,405 C520,420 520,450 505,465 C500,495 465,500 452,480 C435,470 432,440 440,425 C438,410 442,398 450,392 Z"/>
<ellipse class="k2" cx="478" cy="440" rx="22" ry="38"/>
<path class="k2" d="M345,400 C360,395 385,400 392,420 M350,440 C365,450 385,450 395,440"/>
<!-- pulley set 21 -->
<path class="w" style="stroke-width:2" d="M1082,442 L1140,430 C1180,440 1182,560 1142,570 L1090,560 Z"/>
<ellipse class="w" style="stroke-width:2.2" cx="1140" cy="500" rx="32" ry="62"/>
<ellipse cx="1141" cy="502" rx="19" ry="40" fill="#fff" stroke="#111" stroke-width="3"/>
<ellipse class="w" style="stroke-width:2.2" cx="1065" cy="538" rx="36" ry="64"/>
<ellipse class="k2" cx="1067" cy="538" rx="25" ry="46"/><ellipse cx="1069" cy="538" rx="13" ry="25" fill="#fff" stroke="#111" stroke-width="3"/>
<path d="M975,478 L1032,465 L1042,565 L985,572 C968,550 965,500 975,478 Z" fill="#222"/>
<path d="M980,490 L1030,480 M980,510 L1033,502 M982,530 L1035,524 M984,550 L1036,546" stroke="#fff" stroke-width="1.2" fill="none"/>
<path class="w" style="stroke-width:2" d="M905,562 L972,568 C1012,578 1015,672 975,682 L930,690 C895,660 888,600 905,562 Z"/>
<ellipse class="k2" cx="974" cy="625" rx="32" ry="56"/>
<ellipse cx="976" cy="626" rx="19" ry="36" fill="#fff" stroke="#111" stroke-width="3.2"/>
<!-- washers -->
<ellipse class="k2" cx="1166" cy="672" rx="20" ry="38" transform="rotate(10 1166 672)"/><path class="k" d="M1162,665 L1178,672 L1170,690"/>
<ellipse class="k2" cx="958" cy="832" rx="21" ry="38" transform="rotate(10 958 832)"/><path class="k" d="M955,825 L970,832 L962,848"/>
</g>


<!-- 18_flaps.svg -->
<g id="flaps" transform="translate(530,830) scale(0.18927)">
<!-- back flap -->
<path class="w" style="stroke-width:2" d="M345,95 L430,105 C480,112 560,118 600,110 C650,95 700,88 760,90 C830,92 890,125 960,168 C1010,195 1060,215 1120,235 L1200,255 L1200,292 L1195,452 L940,402 L430,300 L440,162 L360,135 Z"/>
<path class="k2" d="M430,105 L442,162 M1120,235 L1128,278 L1198,292 M345,95 L352,140"/>
<path class="k" d="M445,158 L1122,280 M440,222 L1192,352 M432,285 L1195,412"/>
<path class="k3" d="M1125,245 L1190,262 M1130,262 L1192,278"/>
<path class="g" d="M370,105 L378,135 M395,108 L402,142"/>
<!-- front flap -->
<path class="w" style="stroke-width:2" d="M90,365 L150,235 L170,246 L128,355 C180,362 230,368 290,358 C340,338 400,345 450,350 C520,355 580,390 640,425 C700,455 770,475 850,495 L935,375 L942,402 L905,496 L862,505 L862,692 L105,545 Z"/>
<path class="k3" d="M128,355 C180,362 230,368 290,358 C340,338 400,345 450,350 C520,355 580,390 640,425 C700,455 770,475 850,495"/>
<path class="k" d="M100,405 L858,548 M104,470 L860,612 M100,372 L850,512"/>
<path d="M105,535 L862,672 L862,692 L105,548 Z" fill="#666" stroke="#1c1c1c" stroke-width="1.2"/>
<path class="k2" d="M850,495 L862,505 M150,235 L135,340 M905,496 L935,400"/>
<path d="M930,380 L942,402 L910,490 L898,485 Z" fill="#333"/>
<path d="M150,235 L170,246 L160,275 L142,262 Z" fill="#333"/>
</g>


<!-- 19_brushes.svg -->
<defs>
<pattern id="bristle" patternUnits="userSpaceOnUse" width="5" height="7.6" patternTransform="rotate(4)">
<rect width="5" height="7.6" fill="#fff"/>
<path d="M0.1,0.2 L4.9,1.7 L1.0,4.1 Z M3.2,3.9 L5.0,7.5 L0.2,6.6 Z" fill="#151515"/>
</pattern>
<pattern id="rings" patternUnits="userSpaceOnUse" width="2.6" height="10">
<rect width="2.6" height="10" fill="#fff"/><rect width="1.6" height="10" fill="#1c1c1c"/>
</pattern>
</defs>
<g id="brushes">
<!-- brush 24-25 -->
<path d="M431,1139 C450,1137 475,1140 492,1142 C497,1150 497,1168 492,1177 C470,1178 450,1177 431,1176 C426,1166 426,1150 431,1139 Z" fill="url(#bristle)" stroke="#222" stroke-width="0.8" stroke-dasharray="2 1.5"/>
<ellipse cx="491.5" cy="1159.5" rx="3.6" ry="15" fill="#fff" stroke="#333" stroke-width="0.9"/>
<!-- brush 27 -->
<path d="M575,1099 C595,1097 620,1100 636,1102 C640,1110 640,1128 636,1138 C615,1139 595,1138 575,1136 C570,1126 570,1110 575,1099 Z" fill="url(#bristle)" stroke="#222" stroke-width="0.8" stroke-dasharray="2 1.5"/>
<path d="M634,1108 L648,1107 C652,1112 652,1128 648,1133 L634,1132 C637,1124 637,1116 634,1108 Z" fill="#2a2a2a"/>
<ellipse cx="648.5" cy="1120" rx="2.6" ry="12.5" fill="#fff" stroke="#111" stroke-width="1.2"/>
<!-- end cap far-left -->
<path d="M453,1097.5 L475,1100.5 C477,1105 477,1113 475,1117.5 L455,1120.5 C451,1114 450.5,1104 453,1097.5 Z" fill="#fff" stroke="#1c1c1c" stroke-width="1.4"/>
<path d="M453,1097.5 L463,1099 L463.5,1119.5 L455,1120.5 C451,1114 450.5,1104 453,1097.5 Z" fill="url(#rings)" stroke="#1c1c1c" stroke-width="1.2"/>
<path d="M466,1103 L474,1104 M466,1112 L474,1112" stroke="#1c1c1c" stroke-width="1.2" fill="none"/>
<!-- tube -->
<path d="M483,1098.5 L489,1098.2 L489,1125 L483,1125 C481,1117 481,1106 483,1098.5 Z" fill="#fff" stroke="#1c1c1c" stroke-width="1.5"/>
<path d="M489,1101 L537,1104.5 L537,1125 L489,1125" fill="#fff" stroke="#1c1c1c" stroke-width="1.4"/>
<path d="M533,1104.5 C530,1110 530,1120 533,1125 M537,1104.5 C541,1110 541,1120 537,1125" fill="none" stroke="#1c1c1c" stroke-width="1.2"/>
<!-- coupling 26 -->
<path d="M542,1106 L551,1104.5 L551,1125 L542,1124 C540,1118 540,1111 542,1106 Z" fill="#fff" stroke="#1c1c1c" stroke-width="1.3"/>
<path d="M551,1104 L572,1102 C575,1108 575,1122 572,1128 L551,1126 Z" fill="url(#rings)" stroke="#1c1c1c" stroke-width="1.3"/>
<path d="M551,1110 L572,1109 M551,1120 L572,1121" stroke="#1c1c1c" stroke-width="1.6" fill="none"/>
<!-- screw -->
<path d="M529,1216.5 L538,1218.5" stroke="#111" stroke-width="3" stroke-linecap="round"/>
</g>


<!-- 20_mesh.svg -->
<defs>
<pattern id="meshF" patternUnits="userSpaceOnUse" width="4.3" height="4.3" patternTransform="rotate(8)">
<rect width="4.3" height="4.3" fill="#262626"/><circle cx="2.15" cy="2.15" r="1.02" fill="#e0e0e0"/>
</pattern>
<pattern id="meshB" patternUnits="userSpaceOnUse" width="4.4" height="4.4" patternTransform="rotate(10)">
<rect width="4.4" height="4.4" fill="#303030"/><circle cx="2.2" cy="2.2" r="1.5" fill="#fff"/>
</pattern>
</defs>
<g id="mesh">
<!-- back panel -->
<path d="M599,1151 C601,1148.5 604,1148 607,1148 L645,1148.2 C656,1149 667,1151 676.5,1152.6 C690,1156 700,1159.5 711,1163 C722,1167 730,1170 737,1172.5 C741,1174.5 743.5,1177 744,1180.5 L746,1217 L742.5,1232.5 L716,1243 L700,1200 L601,1172 Z" fill="url(#meshB)" stroke="#1c1c1c" stroke-width="1.4"/>
<path d="M601.5,1152 C603,1150.5 605,1150 607,1150 L645,1150.4 C660,1151.5 690,1158 711,1165 C725,1170 735,1174 741,1178" fill="none" stroke="#fff" stroke-width="1.1"/>
<!-- side (right) -->
<path d="M713,1203 L744,1180.5 L746,1217 L742.5,1232.5 L716,1243 Z" fill="url(#meshB)" stroke="#1c1c1c" stroke-width="1.2"/>
<path d="M716,1243 L742,1232 L741,1238 L720,1247 Z" fill="#222"/>
<!-- front panel -->
<path d="M569.7,1175.5 C571,1172 573,1171 576,1170.8 L612.3,1171.6 C624,1172.8 635,1174.6 645.2,1176.8 C657,1179.5 667,1182.5 676.5,1185.5 C687,1189 695,1192 702.5,1195.1 C707,1197 711.5,1199.5 712.9,1203 L715.5,1243 C702,1240 690,1238 676.5,1235.8 L607,1227.2 C594,1224.5 582,1221 572.4,1217 Z" fill="url(#meshF)" stroke="#1c1c1c" stroke-width="1.5"/>
<path d="M572,1177 C573,1174 575,1173.2 577,1173 L612.3,1173.8 C635,1176 660,1182.5 676.5,1187.7 C690,1192 702,1196.5 708,1200 C710,1201.5 711,1203 711.2,1205 L713.5,1241" fill="none" stroke="#fff" stroke-width="1.1"/>
<g stroke="#d8d8d8" stroke-width="0.8" fill="none">
<path d="M590,1173 L592,1222 M603,1173.5 L605,1225.5 M616,1174.5 L618,1227.5 M629,1176 L631,1229 M642,1178.5 L644,1231 M655,1181.5 L657,1232.5 M668,1185 L670,1234 M681,1189.5 L683,1236.5 M694,1194 L696,1238.5"/>
</g>
<!-- clip -->
<path d="M727,1243 L732,1241 L733,1252 L728,1254 Z" fill="#fff" stroke="#1c1c1c" stroke-width="1.2"/>
<path d="M716,1243 L728,1247 M722,1240 L738,1234" stroke="#1c1c1c" stroke-width="1.2" fill="none"/>
</g>


<!-- 21_holder.svg -->
<g id="holder" transform="translate(550,1235) scale(0.18139)" style="--c:#333">
<!-- back panel -->
<path d="M365,110 C365,95 375,88 390,90 L715,128 L1085,210 C1100,215 1108,225 1108,240 L1112,500 L1105,560 L825,772 L825,440 L840,430 L370,310 Z" fill="#fff" stroke="#2a2a2a" stroke-width="1.4"/>
<path class="k" style="stroke:#333" d="M368,128 L1080,248 M1080,248 L1082,470 C1082,495 1072,515 1058,525 L882,672 C865,680 850,672 845,655 L838,440"/>
<path class="k" style="stroke:#333" d="M840,430 L1082,470"/>
<path d="M470,178 L690,218 L700,232 L475,190 Z M760,232 L970,270 L975,282 L765,245 Z" fill="#777" stroke="#444" stroke-width="0.8"/>
<path class="k" style="stroke:#555" d="M390,165 L430,172 M1000,280 L1050,292"/>
<path d="M705,228 L705,155 C708,130 735,115 755,128 L768,140 L745,150 L738,228 Z" fill="#fff" stroke="#2a2a2a" stroke-width="1.4"/>
<path class="k" style="stroke:#444" d="M722,228 L722,160 C725,145 738,138 750,140"/>
<!-- front panel -->
<path d="M100,305 C100,290 110,282 125,284 L445,335 L815,415 C830,420 838,430 838,445 L826,772 L106,640 Z" fill="#fff" stroke="#2a2a2a" stroke-width="1.5"/>
<path class="k" style="stroke:#333" d="M103,330 L832,468"/>
<path d="M108,358 L175,362 L200,385 L440,425 L445,438 L195,398 L172,376 L108,370 Z M480,432 L700,470 L740,492 L800,490 L810,470 L812,500 L738,505 L695,482 L480,445 Z" fill="#777" stroke="#444" stroke-width="0.8"/>
<path d="M435,432 L435,358 C438,335 465,318 485,330 L498,342 L475,352 L468,432 Z" fill="#fff" stroke="#2a2a2a" stroke-width="1.4"/>
<path class="k" style="stroke:#444" d="M452,432 L452,362 C455,348 468,340 480,342"/>
<!-- ghost lines down -->
<path class="t" style="stroke:#333;stroke-width:1.1" d="M410,700 L412,882"/>
</g>
<g id="lid" transform="translate(545,1360) scale(0.18927)">
<!-- ghost outline -->
<path class="t" style="stroke:#333;stroke-width:1.1" d="M420,-20 L425,232 M160,420 L160,175 C160,158 170,148 188,150 L420,195 M425,200 L785,262 C805,268 815,280 816,300 L820,560 M905,36 L1045,60 C1068,65 1078,80 1078,100 L1082,352"/>
<!-- plate -->
<path d="M70,485 L150,430 L830,560 L1095,350 L1172,400 L880,640 Z" fill="#fff" stroke="#2a2a2a" stroke-width="1.3"/>
<!-- frame depth -->
<path d="M150,428 L160,476 L830,598 L1085,388 L1095,350 L830,560 Z" fill="#fff" stroke="#1c1c1c" stroke-width="1.6"/>
<!-- frame -->
<path d="M150,428 L430,226 L1095,350 L830,560 Z" fill="#fff" stroke="#1c1c1c" stroke-width="2.6" stroke-linejoin="round"/>
<path class="k2" d="M215,428 L448,252 L1040,365 L818,535 Z"/>
<path class="k" d="M160,476 L160,440 M830,598 L830,560"/>
<path class="k2" d="M180,395 L240,345 M185,405 L245,355"/>
<!-- blocks -->
<path class="w" d="M432,250 L545,270 L540,312 L428,292 Z M552,262 L632,278 L628,322 L548,305 Z M636,285 L750,305 L745,350 L630,328 Z"/>
<path d="M428,292 L540,312 L538,330 L400,305 L405,285 Z M548,305 L628,322 L626,340 L520,322 Z M630,328 L745,350 L740,372 L618,350 Z" fill="#444"/>
<path class="k2" d="M400,305 L380,325 L720,388 L740,372"/>
<!-- left knob -->
<ellipse class="w" style="stroke-width:2" cx="320" cy="375" rx="50" ry="23"/>
<path class="k2" d="M285,365 C290,340 345,335 352,362 M300,372 C310,355 335,355 340,370"/>
<!-- bottom ridge -->
<path d="M485,440 L800,500 L802,528 L700,512 L690,500 L630,490 L625,502 L495,475 Z" fill="#555" stroke="#1c1c1c" stroke-width="1.2"/>
<path class="k" d="M485,452 L800,512"/>
<!-- right knob -->
<ellipse class="w" style="stroke-width:2" cx="900" cy="472" rx="34" ry="28"/>
<ellipse class="k" cx="905" cy="468" rx="18" ry="15"/>
<!-- latch -->
<path d="M940,500 L1040,482 L1080,455 L1085,470 L1045,510 L950,526 Z" fill="#ddd" stroke="#555" stroke-width="1"/>
<path class="k" style="stroke:#444" d="M1030,455 L1075,448 L1078,470"/>
</g>


<!-- 22_rightcover.svg -->
<g id="rightcover" transform="translate(900,1010) scale(0.16562)">
<!-- outer -->
<path class="w" style="stroke-width:2.2" d="M335,792 C340,770 360,745 392,722 L400,600 C410,520 450,390 500,290 C540,220 600,150 660,122 C700,105 760,100 800,120 C850,150 890,220 912,262 L935,310 L965,322 L972,372 L850,462 L550,692 L365,860 L336,842 Z"/>
<path class="k3" d="M365,860 L972,374"/>
<path class="k" d="M355,835 L960,352 M400,792 L510,705"/>
<!-- textured left edge -->
<path d="M465,385 C430,480 408,600 402,720" fill="none" stroke="#1c1c1c" stroke-width="5" stroke-dasharray="1.5 1.2"/>
<path class="k2" d="M490,360 C455,470 430,600 425,700 C420,740 395,760 370,775 M445,395 C460,330 520,230 570,185 L590,205"/>
<!-- ridge -->
<path class="k2" d="M590,205 C640,160 720,140 790,150 C830,160 860,185 880,215"/>
<path class="k" d="M480,520 C510,400 580,290 660,235 C730,195 810,200 860,250 C890,290 910,300 935,310"/>
<!-- inner dome -->
<path class="k2" d="M510,705 C510,600 540,480 600,400 C650,335 710,295 760,305 C810,320 845,390 852,458"/>
<path class="k" d="M525,690 C530,600 560,490 615,415"/>
<!-- top details -->
<path class="k2" d="M618,165 L655,132 C670,135 682,150 678,165 L650,200 C635,198 622,185 618,165 Z M690,125 L740,112 M760,112 L800,125"/>
<circle cx="766" cy="266" r="6" fill="#111"/><circle cx="570" cy="410" r="6" fill="#111"/>
<path class="k2" d="M935,310 C945,300 955,305 950,322"/>
<!-- block -->
<path class="w" style="stroke-width:2" d="M215,420 L310,355 L410,378 L420,470 L392,540 L288,590 L242,642 L160,622 L160,590 L205,546 Z"/>
<path class="k2" d="M215,420 L325,446 L410,378 M325,446 L322,502 L290,505 L288,590 M205,546 L288,562 M160,590 L242,608 L288,562 M242,608 L242,642"/>
<path class="k3" d="M230,466 L300,482 M335,430 L400,392"/>
<path class="k" d="M350,470 L360,530 M322,502 L390,470"/>
<!-- washer -->
<ellipse class="k2" cx="172" cy="352" rx="22" ry="42" transform="rotate(8 172 352)"/><path class="k" d="M170,345 L188,352 L180,372"/>
<!-- screws -->
<path class="k3" d="M1100,326 L1158,340 M905,480 L962,490"/>
<circle cx="1160" cy="341" r="7" fill="#111"/><circle cx="964" cy="491" r="7" fill="#111"/>
</g>


<!-- 23_filters.svg -->
<defs>
<pattern id="pleat" patternUnits="userSpaceOnUse" width="11" height="40">
<rect width="11" height="40" fill="#d0d0d0"/><rect width="6" height="40" fill="#505050"/>
</pattern>
</defs>
<g id="filters" transform="translate(880,1160) scale(0.18139)">
<!-- base tray -->
<path d="M35,592 L92,560 L850,705 L1110,440 L1185,500 L852,758 Z" fill="#fff" stroke="#1c1c1c" stroke-width="1.4"/>
<path d="M35,592 L852,742 L1185,498 L1185,512 L852,760 L35,606 Z" fill="#222"/>
<!-- back cartridge -->
<path d="M330,68 L370,58 L1105,195 L1110,440 L1065,522 L335,395 Z" fill="#fff" stroke="#1c1c1c" stroke-width="1.8"/>
<path d="M330,68 L370,58 L1105,195 L1062,228 L330,108 Z" fill="#8c8c8c" stroke="#1c1c1c" stroke-width="1.2"/>
<path d="M350,128 L1045,245 L1045,500 L350,380 Z" fill="url(#pleat)" stroke="#1c1c1c" stroke-width="1"/>
<g stroke="#fff" stroke-width="2.4" fill="none"><path d="M350,128 L1045,500 M350,380 L690,300 L1045,245 M690,185 L690,440 M350,255 L690,310 L1045,372"/></g>
<path class="k" d="M1062,228 L1065,522 M1085,212 L1088,480"/>
<path class="w" d="M470,72 L500,58 L535,62 L545,92 L478,85 Z M905,150 L940,138 L975,145 L985,172 L912,162 Z"/>
<path d="M480,62 L530,55 L535,70 L485,78 Z M918,140 L968,135 L972,150 L924,156 Z" fill="#222"/>
<!-- floor clutter between -->
<path d="M880,520 L1062,548 L1105,500 L1150,510 L880,700 Z" fill="#fff" stroke="#1c1c1c" stroke-width="1.2"/>
<path d="M900,545 L960,555 L955,590 L900,580 Z M980,560 L1040,545 L1050,580 L990,600 Z M905,610 L950,618 L945,650 L905,640 Z" fill="#333"/>
<path class="k2" d="M1100,420 L1150,432 L1160,470 L1148,505 L1100,492 Z M1115,440 L1140,448 L1138,480"/>
<path class="k" d="M990,620 L1045,605 L1048,625"/>
<!-- front cartridge -->
<path d="M100,242 L140,232 L880,372 L882,690 L852,708 L90,582 Z" fill="#fff" stroke="#1c1c1c" stroke-width="1.8"/>
<path d="M100,242 L140,232 L880,372 L850,400 L100,288 Z" fill="#8c8c8c" stroke="#1c1c1c" stroke-width="1.2"/>
<path d="M118,308 L832,418 L832,688 L112,565 Z" fill="url(#pleat)" stroke="#1c1c1c" stroke-width="1"/>
<g stroke="#fff" stroke-width="2.6" fill="none"><path d="M118,308 L832,688 M112,565 L455,492 L832,418 M455,360 L455,625 M114,435 L455,492 L832,552"/></g>
<path class="k" d="M852,400 L852,708 M866,388 L868,698"/>
<path class="w" d="M205,255 L240,240 L290,245 L300,275 L215,268 Z M640,335 L675,322 L725,328 L735,356 L650,348 Z"/>
<path d="M215,246 L280,240 L285,255 L220,262 Z M650,326 L715,320 L720,336 L655,342 Z" fill="#222"/>
</g>


<!-- 24_power.svg -->
<g id="power" transform="translate(140,1300) scale(0.20505)" fill="none" stroke="#6e6e6e" stroke-width="1.15" stroke-linejoin="round" stroke-linecap="round">
<!-- left side box -->
<path d="M65,362 L110,340 L112,492 L70,482 Z" fill="#fff"/>
<!-- body -->
<path d="M110,500 L112,805 L895,915 L1030,832 L1030,540 L960,512 Z" fill="#fff"/>
<path d="M112,515 L520,562 L940,602 L1030,545 M940,602 L942,890 M125,500 L128,790"/>
<circle cx="518" cy="517" r="3" fill="#777" stroke="none"/>
<!-- label plate -->
<path d="M205,610 C205,595 215,588 230,590 L840,675 C856,678 862,688 860,702 L852,825 C850,838 840,845 825,842 L222,762 C208,760 200,752 200,738 Z" fill="#fff" stroke="#8a8a8a"/>
<!-- arch -->
<path d="M105,492 C110,400 140,270 200,165 C225,125 260,108 320,100 C450,88 650,95 760,118 C880,145 980,200 1030,262 C1050,295 1048,340 1030,385 L985,470 L962,512 L900,528 L140,512 Z" fill="#fff" stroke="#5a5a5a" stroke-width="1.3"/>
<path d="M135,470 C140,400 165,290 215,195 C238,155 270,140 320,132 C450,120 640,128 750,150 C860,175 950,225 990,280 C1008,310 1002,350 985,390 L940,480 L900,496 L520,448 L150,440 Z"/>
<path d="M180,235 L395,240 M790,262 L1000,262"/>
<!-- handle -->
<path d="M385,246 L408,135 C412,120 425,112 440,114 L755,140 C775,143 785,155 786,172 L790,300" stroke="#5a5a5a"/>
<path d="M435,242 L445,175 C448,163 455,158 468,160 L742,182 C756,184 762,192 763,205 L766,292 M435,242 L790,300 M410,135 L425,240"/>
<!-- slots -->
<path d="M270,196 L305,190 L300,246 L265,250 Z M275,240 L300,200 M865,266 L900,262 L895,326 L860,330 Z M868,322 L896,270" stroke="#555" stroke-width="1.3"/>
<!-- display -->
<path d="M310,300 C312,282 322,274 340,276 L780,335 C800,338 810,350 808,368 L800,425 C797,443 785,452 768,450 L325,396 C305,393 295,382 297,365 Z" fill="#fff" stroke="#222" stroke-width="2.6"/>
<path d="M322,312 C323,302 330,298 340,300 L430,310 C440,312 444,318 443,328 L437,375 C435,385 428,388 418,387 L330,377 C320,375 315,370 316,360 Z" stroke="#333" stroke-width="1.6"/>
<path d="M345,322 L415,328 L410,366 L340,360 Z" stroke="#333" stroke-width="1.2"/>
<path d="M352,337 L404,342" stroke="#111" stroke-width="2.6"/>
<path d="M452,302 L442,396" stroke="#555"/>
<path d="M485,376 L500,378" stroke="#333" stroke-width="1.6"/>
<g fill="#555" stroke="none"><circle cx="690" cy="361" r="3.5"/><circle cx="725" cy="364" r="3.5"/><circle cx="758" cy="368" r="3.5"/></g>
<!-- right connector -->
<path d="M975,462 L1010,450 C1040,455 1060,490 1055,530 C1050,560 1030,580 1010,582 L975,572 Z" fill="#fff" stroke="#444" stroke-width="1.4"/>
<ellipse cx="1022" cy="518" rx="22" ry="42" stroke="#444" stroke-width="1.4"/>
<path d="M990,470 L992,570 M1040,485 C1055,500 1058,540 1045,560" stroke="#333" stroke-width="2"/>
<!-- cable + plug -->
<path d="M1000,582 C1010,640 1030,700 1062,735"/>
<path d="M1078,662 L1112,646 C1150,650 1180,680 1176,715 C1172,745 1150,760 1122,760 L1082,742 C1068,720 1068,685 1078,662 Z" fill="#fff" stroke="#444" stroke-width="1.5"/>
<path d="M1078,662 L1112,646 L1118,760 L1082,742 C1068,720 1068,685 1078,662 Z" fill="#8a8a8a" stroke="#444"/>
<ellipse cx="1148" cy="704" rx="24" ry="40" stroke="#444" stroke-width="1.5" fill="#bbb"/>
<ellipse cx="1152" cy="704" rx="13" ry="24" stroke="#444" fill="#fff"/>
<path d="M1090,658 L1092,748 M1102,652 L1104,754" stroke="#555"/>
<!-- feet -->
<g fill="#333" stroke="none"><circle cx="166" cy="818" r="5"/><circle cx="893" cy="916" r="5"/></g>
<!-- text -->
<text transform="translate(242,722) skewY(8.6) scale(0.86,1.25)" font-family="Liberation Serif, serif" font-weight="bold" font-size="92" fill="#fff" stroke="#777" stroke-width="1" textLength="680" lengthAdjust="spacingAndGlyphs">Power Supply</text>
</g>


<!-- 25_small.svg -->
<g id="small3" transform="translate(800,350) scale(0.094637)">
<path class="w" style="stroke-width:2.4" d="M812,400 C815,365 835,345 870,345 C910,345 935,380 942,430 L965,600 C972,680 968,740 955,770 C940,795 900,795 872,775 C840,750 828,700 822,640 Z"/>
<path class="k3" d="M835,385 C825,450 828,600 850,720"/>
<path class="k" d="M875,400 C870,480 878,620 895,740 M842,600 L880,595 M850,470 L872,465"/>
<!-- clip -->
<path class="w" style="stroke-width:2" d="M272,520 L275,440 C290,390 340,350 395,332 C430,360 455,400 455,450 L420,440 L392,510 L465,505 L476,615 L396,626 L380,632 L346,622 L200,632 L196,522 Z"/>
<path class="k2" d="M340,518 L346,622 M392,510 L396,626 M375,440 L380,632 M196,522 L340,518 M250,525 L255,628"/>
<path d="M300,385 L395,332 L440,420 L420,440 L400,380 L360,395 Z" fill="#222"/>
<path class="k" d="M345,395 L375,440 L405,390"/>
</g>
<path d="M775,1257.5 L783,1260" stroke="#111" stroke-width="2.8" stroke-linecap="round"/>
<circle cx="775" cy="1257.5" r="2" fill="#111"/>


<!-- 11_handle.py -->
<g id="handle" transform="translate(520,300) scale(0.20505)">
<path class="k2" d="M135,385 C100,320 88,230 105,150 C120,90 160,50 215,52 C280,58 330,120 338,200 C340,260 320,320 255,352"/>
<path class="k3" d="M130,105 C105,170 100,260 135,350"/>
<path class="k" d="M160,70 C125,140 120,260 160,365 M185,60 C150,130 150,270 195,370 C215,385 235,375 250,352"/>
<ellipse class="k2" cx="272" cy="205" rx="66" ry="140" transform="rotate(-4 272 205)"/>
<path class="k" d="M225,90 C200,160 200,270 240,340"/>
<path class="k2" d="M135,385 L162,500 L192,640 L212,720 C230,745 260,748 280,740 C300,720 305,690 290,668 C280,660 270,660 262,668 L238,500 L240,410"/>
<path class="k" d="M175,420 L210,650 M205,430 L245,660 M200,500 L240,495 M222,690 C235,670 250,665 262,668"/>
<ellipse class="k" cx="280" cy="705" rx="14" ry="28" transform="rotate(-10 280 705)"/>
<path class="g" d="M215,520 L245,650 M225,515 L252,640"/>
<path d="M290,258 L450,292 L720,345 L850,367 L850,442 L700,418 L440,350 L262,345 C268,320 275,280 290,258 Z" fill="#fff"/>
<path class="k2" d="M290,258 L450,292 L720,345 L850,367 M262,345 L440,350 L700,418 L850,442"/>
<path class="k2" d="M290,258 C278,275 272,310 275,335 M445,292 C438,310 436,335 440,352 M722,346 C712,370 708,400 712,422"/>
<path class="k3" d="M292,318 L432,338 M722,398 L840,420"/>
<path class="k" d="M290,300 L435,322 M725,380 L842,402"/>
<path class="k2" d="M255,352 C280,390 330,410 385,395 C410,385 428,370 438,352"/>
<path class="k" stroke-dasharray="7 5" d="M300,385 C340,400 390,385 420,360"/>
<path class="k2" d="M712,422 C720,450 760,470 800,478 L900,498 C925,505 940,515 945,530"/>
<path class="k" d="M740,452 L850,480"/>
<g fill="#111"><circle cx="468" cy="315" r="6.6"/><circle cx="497" cy="321" r="6.6"/><circle cx="526" cy="327" r="6.6"/><circle cx="555" cy="332" r="6.6"/><circle cx="584" cy="338" r="6.6"/><circle cx="613" cy="344" r="6.6"/><circle cx="642" cy="349" r="6.6"/><circle cx="671" cy="355" r="6.6"/><circle cx="700" cy="361" r="6.6"/><circle cx="482" cy="339" r="6.6"/><circle cx="511" cy="345" r="6.6"/><circle cx="540" cy="350" r="6.6"/><circle cx="569" cy="356" r="6.6"/><circle cx="598" cy="362" r="6.6"/><circle cx="627" cy="367" r="6.6"/><circle cx="656" cy="373" r="6.6"/><circle cx="685" cy="379" r="6.6"/><circle cx="468" cy="357" r="6.6"/><circle cx="497" cy="363" r="6.6"/><circle cx="526" cy="369" r="6.6"/><circle cx="555" cy="374" r="6.6"/><circle cx="584" cy="380" r="6.6"/><circle cx="613" cy="386" r="6.6"/><circle cx="642" cy="391" r="6.6"/><circle cx="671" cy="397" r="6.6"/><circle cx="700" cy="403" r="6.6"/></g>
<path class="k2" d="M852,470 C840,390 860,290 915,228 C950,200 1010,198 1045,225 C1075,255 1085,330 1082,400 C1078,480 1060,560 1045,640 L1022,830 C1015,860 990,880 960,880 C930,880 905,865 905,835 C905,810 920,790 940,790"/>
<path class="k3" d="M935,245 C905,300 890,380 892,460"/>
<path class="k" d="M880,470 C872,380 890,290 945,228 M915,475 C905,380 925,290 975,225"/>
<path class="k2" d="M852,470 C870,490 900,495 930,480 C945,500 955,540 965,600 L960,700 L940,790"/>
<path class="k2" d="M1000,215 C955,260 935,350 935,480"/>
<path class="k" d="M1010,240 C1045,280 1050,400 1040,520 L1035,640 M975,650 L1038,640 M978,620 L970,790 M960,495 C975,500 985,495 990,485"/>
<ellipse class="k" cx="925" cy="835" rx="16" ry="36" transform="rotate(-8 925 835)"/>
<path class="k" d="M960,860 L1040,830"/>
<path class="k3" d="M105,668 L155,686 M1048,852 L1098,862"/>
<circle cx="1100" cy="860" r="7" fill="#111"/><circle cx="106" cy="668" r="6" fill="#111"/>
<path class="k2" d="M362,712 L425,728 C435,735 435,752 425,758 L372,742 C355,738 352,716 362,712 Z M372,742 C380,735 380,720 372,714"/>
<path class="k2" d="M662,690 L666,720 M652,692 L661,676 L672,690 M541,782 L545,812 M532,778 L552,776 M372,912 L372,927 M362,906 L382,904"/>
<path class="k2" d="M778,786 C770,800 772,820 782,830 L800,832 L800,786 Z M810,792 L845,798 C855,808 855,822 845,830 L812,828"/>
</g>

<!-- 155_tracks.py -->
<g id="ltrack" transform="translate(430,940) scale(0.25237)">
<path d="M268,30 C252,80 242,140 217,195 C182,250 132,310 102,370 C88,400 82,430 92,452 C182,398 332,300 472,205 C492,190 498,170 495,142 C485,102 455,82 420,92 C385,102 360,127 335,132 C317,112 307,72 300,42 C292,27 278,22 268,30 Z" fill="none" stroke="#1c1c1c" stroke-width="11" stroke-linejoin="round"/>
<path d="M268,30 C252,80 242,140 217,195 C182,250 132,310 102,370 C88,400 82,430 92,452 C182,398 332,300 472,205 C492,190 498,170 495,142 C485,102 455,82 420,92 C385,102 360,127 335,132 C317,112 307,72 300,42 C292,27 278,22 268,30 Z" fill="none" stroke="#fff" stroke-width="7.8" stroke-linejoin="round"/>
<path d="M268,30 C252,80 242,140 217,195 C182,250 132,310 102,370 C88,400 82,430 92,452 C182,398 332,300 472,205 C492,190 498,170 495,142 C485,102 455,82 420,92 C385,102 360,127 335,132 C317,112 307,72 300,42 C292,27 278,22 268,30 Z" fill="none" stroke="#1c1c1c" stroke-width="8.4" stroke-dasharray="2.1 2.7" stroke-linejoin="round"/>
<path d="M268,30 C252,80 242,140 217,195 C182,250 132,310 102,370 C88,400 82,430 92,452 C182,398 332,300 472,205 C492,190 498,170 495,142 C485,102 455,82 420,92 C385,102 360,127 335,132 C317,112 307,72 300,42 C292,27 278,22 268,30 Z" fill="none" stroke="#1c1c1c" stroke-width="4.0" stroke-linejoin="round"/>
<path d="M268,30 C252,80 242,140 217,195 C182,250 132,310 102,370 C88,400 82,430 92,452 C182,398 332,300 472,205 C492,190 498,170 495,142 C485,102 455,82 420,92 C385,102 360,127 335,132 C317,112 307,72 300,42 C292,27 278,22 268,30 Z" fill="none" stroke="#fff" stroke-width="1.8" stroke-linejoin="round"/>
<path d="M105,458 C200,398 330,312 480,212" fill="none" stroke="#1c1c1c" stroke-width="6.5" stroke-dasharray="1.9 1.3"/>
<path d="M338,146 C368,140 398,116 426,106 C455,99 476,112 484,142" fill="none" stroke="#1c1c1c" stroke-width="5.5" stroke-dasharray="1.9 1.3"/>
</g>
<g id="rtrack" transform="translate(690,930) scale(0.20505)">
<path d="M572,368 C560,420 548,470 515,560 C480,640 400,720 345,800 C325,840 318,870 335,892 C480,790 660,660 805,555 C830,535 838,500 828,465 C815,435 775,428 745,440 C710,455 690,485 660,488 C630,470 615,420 605,385 C598,365 582,358 572,368 Z" fill="none" stroke="#1c1c1c" stroke-width="11" stroke-linejoin="round"/>
<path d="M572,368 C560,420 548,470 515,560 C480,640 400,720 345,800 C325,840 318,870 335,892 C480,790 660,660 805,555 C830,535 838,500 828,465 C815,435 775,428 745,440 C710,455 690,485 660,488 C630,470 615,420 605,385 C598,365 582,358 572,368 Z" fill="none" stroke="#fff" stroke-width="7.8" stroke-linejoin="round"/>
<path d="M572,368 C560,420 548,470 515,560 C480,640 400,720 345,800 C325,840 318,870 335,892 C480,790 660,660 805,555 C830,535 838,500 828,465 C815,435 775,428 745,440 C710,455 690,485 660,488 C630,470 615,420 605,385 C598,365 582,358 572,368 Z" fill="none" stroke="#1c1c1c" stroke-width="8.4" stroke-dasharray="2.1 2.7" stroke-linejoin="round"/>
<path d="M572,368 C560,420 548,470 515,560 C480,640 400,720 345,800 C325,840 318,870 335,892 C480,790 660,660 805,555 C830,535 838,500 828,465 C815,435 775,428 745,440 C710,455 690,485 660,488 C630,470 615,420 605,385 C598,365 582,358 572,368 Z" fill="none" stroke="#1c1c1c" stroke-width="4.0" stroke-linejoin="round"/>
<path d="M572,368 C560,420 548,470 515,560 C480,640 400,720 345,800 C325,840 318,870 335,892 C480,790 660,660 805,555 C830,535 838,500 828,465 C815,435 775,428 745,440 C710,455 690,485 660,488 C630,470 615,420 605,385 C598,365 582,358 572,368 Z" fill="none" stroke="#fff" stroke-width="1.8" stroke-linejoin="round"/>
<path d="M350,900 C490,800 660,675 815,562" fill="none" stroke="#1c1c1c" stroke-width="6.5" stroke-dasharray="1.9 1.3"/>
<path d="M610,440 C625,480 645,500 668,502 C700,498 720,468 752,455 C780,445 808,452 818,475" fill="none" stroke="#1c1c1c" stroke-width="5.5" stroke-dasharray="1.9 1.3"/>
</g>

<g id="arrows">
<line x1="1169.0" y1="294.0" x2="1149.0" y2="319.5" stroke="#111" stroke-width="1.2"/><polygon points="1136.0,336.0 1145.2,316.5 1152.7,322.5" fill="#111"/>
<line x1="923.0" y1="357.0" x2="903.3" y2="381.2" stroke="#111" stroke-width="1.2"/><polygon points="890.0,397.5 899.5,378.2 907.0,384.3" fill="#111"/>
<line x1="614.0" y1="318.0" x2="608.6" y2="420.0" stroke="#111" stroke-width="1.2"/><polygon points="607.3,445.0 604.1,419.8 613.1,420.3" fill="#111"/>
<line x1="228.5" y1="472.5" x2="291.9" y2="557.2" stroke="#111" stroke-width="1.2"/><polygon points="304.5,574.0 288.1,560.1 295.8,554.3" fill="#111"/>
<line x1="442.5" y1="585.0" x2="405.7" y2="646.9" stroke="#111" stroke-width="1.2"/><polygon points="395.0,665.0 401.6,644.5 409.8,649.4" fill="#111"/>
<line x1="161.0" y1="679.0" x2="201.0" y2="677.4" stroke="#111" stroke-width="1.2"/><polygon points="222.0,676.5 201.2,682.2 200.8,672.6" fill="#111"/>
<line x1="871.5" y1="569.0" x2="820.4" y2="647.9" stroke="#111" stroke-width="1.2"/><polygon points="809.0,665.5 816.4,645.3 824.4,650.5" fill="#111"/>
<line x1="953.7" y1="654.0" x2="950.7" y2="619.9" stroke="#111" stroke-width="1.2"/><polygon points="948.8,599.0 955.4,619.5 945.9,620.3" fill="#111"/>
<line x1="517.0" y1="808.4" x2="559.7" y2="797.3" stroke="#111" stroke-width="1.2"/><polygon points="580.0,792.0 560.9,801.9 558.5,792.6" fill="#111"/>
<line x1="419.0" y1="901.0" x2="432.2" y2="921.4" stroke="#111" stroke-width="1.2"/><polygon points="443.6,939.0 428.2,924.0 436.2,918.8" fill="#111"/>
<line x1="514.0" y1="876.6" x2="541.0" y2="876.9" stroke="#111" stroke-width="1.2"/><polygon points="562.0,877.2 540.9,881.7 541.1,872.1" fill="#111"/>
<line x1="303.0" y1="1058.5" x2="324.2" y2="1027.2" stroke="#111" stroke-width="1.2"/><polygon points="336.5,1009.0 328.3,1030.0 320.0,1024.4" fill="#111"/>
<line x1="375.5" y1="1058.5" x2="372.8" y2="1032.4" stroke="#111" stroke-width="1.2"/><polygon points="370.5,1009.5 377.8,1031.9 367.9,1032.9" fill="#111"/>
<line x1="360.5" y1="1161.6" x2="402.6" y2="1161.6" stroke="#111" stroke-width="1.2"/><polygon points="423.6,1161.6 402.6,1166.4 402.6,1156.8" fill="#111"/>
<line x1="526.6" y1="1188.0" x2="546.5" y2="1151.4" stroke="#111" stroke-width="1.2"/><polygon points="556.5,1133.0 550.7,1153.7 542.3,1149.2" fill="#111"/>
<line x1="703.0" y1="1133.0" x2="679.0" y2="1126.8" stroke="#111" stroke-width="1.2"/><polygon points="658.7,1121.5 680.2,1122.1 677.8,1131.4" fill="#111"/>
<line x1="770.0" y1="925.0" x2="751.0" y2="968.3" stroke="#111" stroke-width="1.2"/><polygon points="742.6,987.5 746.6,966.3 755.4,970.2" fill="#111"/>
<line x1="842.0" y1="955.0" x2="835.3" y2="997.0" stroke="#111" stroke-width="1.2"/><polygon points="832.0,1017.7 830.6,996.2 840.0,997.7" fill="#111"/>
<line x1="907.0" y1="964.0" x2="877.7" y2="1004.9" stroke="#111" stroke-width="1.2"/><polygon points="865.5,1022.0 873.8,1002.1 881.6,1007.7" fill="#111"/>
<line x1="972.0" y1="983.0" x2="940.2" y2="1007.3" stroke="#111" stroke-width="1.2"/><polygon points="923.5,1020.0 937.3,1003.4 943.1,1011.1" fill="#111"/>
<line x1="806.5" y1="1182.5" x2="766.3" y2="1195.8" stroke="#111" stroke-width="1.2"/><polygon points="744.5,1203.0 764.7,1190.8 768.0,1200.8" fill="#111"/>
<line x1="810.0" y1="1304.5" x2="771.0" y2="1293.2" stroke="#111" stroke-width="1.2"/><polygon points="748.0,1286.5 772.6,1287.9 769.5,1298.5" fill="#111"/>
<line x1="1113.7" y1="1168.0" x2="1092.7" y2="1199.5" stroke="#111" stroke-width="1.2"/><polygon points="1081.0,1217.0 1088.7,1196.9 1096.6,1202.2" fill="#111"/>
<line x1="810.5" y1="1394.5" x2="754.2" y2="1361.2" stroke="#111" stroke-width="1.2"/><polygon points="733.5,1349.0 757.0,1356.5 751.4,1365.9" fill="#111"/>
<line x1="800.3" y1="1482.5" x2="774.5" y2="1461.3" stroke="#111" stroke-width="1.2"/><polygon points="756.0,1446.0 778.0,1457.0 771.0,1465.5" fill="#111"/>
<line x1="168.0" y1="1261.5" x2="192.6" y2="1300.3" stroke="#111" stroke-width="1.2"/><polygon points="203.8,1318.0 188.5,1302.8 196.6,1297.7" fill="#111"/>
</g>
<g id="labels">
<text class="lb" x="1101" y="290">1 - 2</text>
<text class="lb" x="926" y="368">3</text>
<text class="lb" x="603" y="309">4</text>
<text class="lb" x="199" y="481">5</text>
<text class="lb" x="442" y="583">7</text>
<text class="lb" x="135" y="691">6</text>
<text class="lb" x="803" y="564" textLength="160" lengthAdjust="spacingAndGlyphs">8 - 9 - 10</text>
<text class="lb" x="935" y="686" textLength="40" lengthAdjust="spacingAndGlyphs">11</text>
<text class="lb" x="387" y="822">12 - 13</text>
<text class="lb" x="395" y="901">14</text>
<text class="lb" x="462" y="889">15</text>
<text class="lb" x="272" y="1089">16</text>
<text class="lb" x="347" y="1089">17</text>
<text class="lb" x="760" y="924">18</text>
<text class="lb" x="825" y="954.5">19</text>
<text class="lb" x="890" y="962.5">20</text>
<text class="lb" x="969" y="991">21</text>
<text class="lb" x="71" y="1257">22 - 23</text>
<text class="lb" x="235" y="1176">24 - 25</text>
<text class="lb" x="477" y="1211">26</text>
<text class="lb" x="702" y="1147">27</text>
<text class="lb" x="807" y="1196">28</text>
<text class="lb" x="813" y="1318">29</text>
<text class="lb" x="813" y="1408">30</text>
<text class="lb" x="802" y="1497">31 - 32</text>
<text class="lb" x="1024" y="1164">33 - 34 - 35</text>
</g>
</svg>
</body></html>
